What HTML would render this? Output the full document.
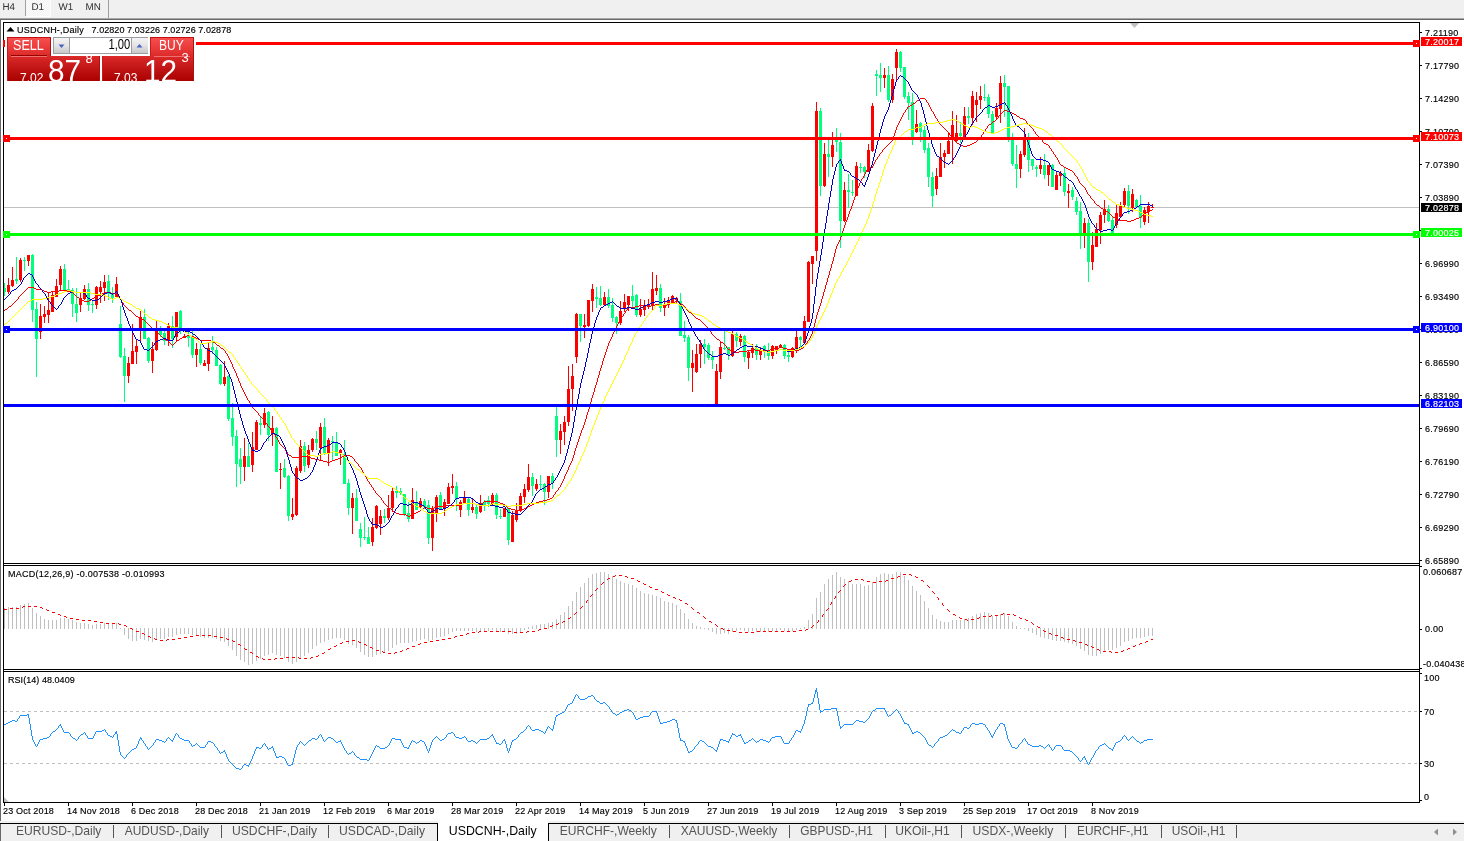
<!DOCTYPE html>
<html><head><meta charset="utf-8"><title>USDCNH-,Daily</title>
<style>
html,body{margin:0;padding:0;}
body{width:1464px;height:841px;overflow:hidden;background:#fff;position:relative;font-family:"Liberation Sans", sans-serif;}
.abs{position:absolute;}
#toolbar{left:0;top:0;width:1464px;height:18px;background:#f0f0f0;}
.tf{position:absolute;top:1px;height:11px;line-height:11px;font-size:10px;color:#303030;letter-spacing:0.2px;}
#tabs{left:0;top:824px;width:1464px;height:17px;background:#f0f0f0;}
.tab{position:absolute;top:0;height:17px;line-height:15px;font-size:13px;color:#555;white-space:nowrap;}
.tab.act{background:#fff;color:#000;top:-3px;height:20px;line-height:21px;border-left:1px solid #000;border-right:1px solid #000;text-align:center;}
svg text{font-family:"Liberation Sans", sans-serif;}
.ax{font-size:9px;fill:#000;letter-spacing:0.25px;stroke:#000;stroke-width:0.15px;}
#oct{left:4px;top:36px;width:192px;height:46px;background:#fff;}
.rb{position:absolute;background:linear-gradient(#f04848,#c81818 55%,#b00000);color:#fff;overflow:hidden;}
</style></head><body>

<div id="toolbar" class="abs">
<div class="abs" style="left:26px;top:0;width:25px;height:17px;background:#fcfcfc"></div>
<div class="abs" style="left:26px;top:0;width:24px;height:16px;background-color:#f0f0f0;background-image:linear-gradient(45deg,#fff 25%,transparent 25%,transparent 75%,#fff 75%),linear-gradient(45deg,#fff 25%,transparent 25%,transparent 75%,#fff 75%);background-size:2px 2px;background-position:0 0,1px 1px"></div>
<div class="abs" style="left:25px;top:0;width:1px;height:16px;background:#a0a0a0"></div>
<div class="abs" style="left:108px;top:0;width:1px;height:18px;background:#a0a0a0"></div>
</div>
<div class="abs" style="left:0;top:18px;width:1464px;height:1px;background:#a8a8a8"></div>
<div class="abs" style="left:0;top:19px;width:1464px;height:1px;background:#696969"></div>
<div class="abs" style="left:0;top:20px;width:1px;height:801px;background:#696969"></div>
<div class="abs" style="left:0;top:821px;width:1464px;height:2px;background:#f0f0f0"></div>
<div class="abs" style="left:0;top:823px;width:1464px;height:1px;background:#000"></div>
<div id="tabs" class="abs"></div>
<div class="abs" style="left:0;top:824px;width:1px;height:17px;background:#696969"></div>
<div class="abs" style="left:438px;top:821px;width:110px;height:20px;background:#fff;"></div>
<div class="abs" style="left:437px;top:823px;width:1px;height:18px;background:#000;"></div><div class="abs" style="left:548px;top:823px;width:1px;height:18px;background:#000;"></div>
<div class="abs" style="left:438px;top:816px;width:110px;height:6px;background:#fff;"></div>
<svg class="abs" style="left:0;top:816px" width="1464" height="25" viewBox="0 816 1464 25">
<text x="16" y="835" font-size="13" fill="#555" textLength="85.4" lengthAdjust="spacingAndGlyphs">EURUSD-,Daily</text>
<text x="124.7" y="835" font-size="13" fill="#555" textLength="84.3" lengthAdjust="spacingAndGlyphs">AUDUSD-,Daily</text>
<text x="232" y="835" font-size="13" fill="#555" textLength="85.0" lengthAdjust="spacingAndGlyphs">USDCHF-,Daily</text>
<text x="339" y="835" font-size="13" fill="#555" textLength="86.0" lengthAdjust="spacingAndGlyphs">USDCAD-,Daily</text>
<text x="448.8" y="835" font-size="13" fill="#000" textLength="87.8" lengthAdjust="spacingAndGlyphs">USDCNH-,Daily</text>
<text x="559.8" y="835" font-size="13" fill="#555" textLength="97.0" lengthAdjust="spacingAndGlyphs">EURCHF-,Weekly</text>
<text x="680.7" y="835" font-size="13" fill="#555" textLength="96.7" lengthAdjust="spacingAndGlyphs">XAUUSD-,Weekly</text>
<text x="800.3" y="835" font-size="13" fill="#555" textLength="72.7" lengthAdjust="spacingAndGlyphs">GBPUSD-,H1</text>
<text x="895.3" y="835" font-size="13" fill="#555" textLength="54.5" lengthAdjust="spacingAndGlyphs">UKOil-,H1</text>
<text x="972.5" y="835" font-size="13" fill="#555" textLength="80.9" lengthAdjust="spacingAndGlyphs">USDX-,Weekly</text>
<text x="1077" y="835" font-size="13" fill="#555" textLength="71.7" lengthAdjust="spacingAndGlyphs">EURCHF-,H1</text>
<text x="1171.7" y="835" font-size="13" fill="#555" textLength="53.7" lengthAdjust="spacingAndGlyphs">USOil-,H1</text>
<rect x="112.9" y="825" width="1" height="13" fill="#555" shape-rendering="crispEdges"/>
<rect x="220.8" y="825" width="1" height="13" fill="#555" shape-rendering="crispEdges"/>
<rect x="328.4" y="825" width="1" height="13" fill="#555" shape-rendering="crispEdges"/>
<rect x="669.3" y="825" width="1" height="13" fill="#555" shape-rendering="crispEdges"/>
<rect x="788.8" y="825" width="1" height="13" fill="#555" shape-rendering="crispEdges"/>
<rect x="884.8" y="825" width="1" height="13" fill="#555" shape-rendering="crispEdges"/>
<rect x="960.5" y="825" width="1" height="13" fill="#555" shape-rendering="crispEdges"/>
<rect x="1064.5" y="825" width="1" height="13" fill="#555" shape-rendering="crispEdges"/>
<rect x="1160.5" y="825" width="1" height="13" fill="#555" shape-rendering="crispEdges"/>
<rect x="1236.2" y="825" width="1" height="13" fill="#555" shape-rendering="crispEdges"/>
<path d="M1434 832 L1438 828.5 L1438 835.5 Z" fill="#909090"/><path d="M1457 832 L1453 828.5 L1453 835.5 Z" fill="#909090"/>
</svg>
<svg class="abs" style="left:0;top:0" width="1464" height="841" viewBox="0 0 1464 841">
<g shape-rendering="crispEdges">
<rect x="4" y="207" width="1415" height="1" fill="#c0c0c0"/>
<rect x="4" y="283" width="1" height="13" fill="#00ff7f"/>
<rect x="3" y="288" width="3" height="4" fill="#00ff7f"/>
<rect x="8" y="278" width="1" height="16" fill="#ff0000"/>
<rect x="7" y="285" width="3" height="7" fill="#ff0000"/>
<rect x="12" y="267" width="1" height="20" fill="#ff0000"/>
<rect x="11" y="280" width="3" height="6" fill="#ff0000"/>
<rect x="16" y="257" width="1" height="27" fill="#00ff7f"/>
<rect x="15" y="279" width="3" height="2" fill="#00ff7f"/>
<rect x="20" y="258" width="1" height="24" fill="#ff0000"/>
<rect x="19" y="260" width="3" height="20" fill="#ff0000"/>
<rect x="24" y="257" width="1" height="14" fill="#00ff7f"/>
<rect x="23" y="260" width="3" height="1" fill="#00ff7f"/>
<rect x="28" y="255" width="1" height="11" fill="#ff0000"/>
<rect x="27" y="255" width="3" height="6" fill="#ff0000"/>
<rect x="32" y="254" width="1" height="68" fill="#00ff7f"/>
<rect x="31" y="255" width="3" height="55" fill="#00ff7f"/>
<rect x="36" y="302" width="1" height="75" fill="#00ff7f"/>
<rect x="35" y="309" width="3" height="30" fill="#00ff7f"/>
<rect x="40" y="304" width="1" height="35" fill="#ff0000"/>
<rect x="39" y="316" width="3" height="16" fill="#ff0000"/>
<rect x="44" y="306" width="1" height="17" fill="#ff0000"/>
<rect x="43" y="314" width="3" height="3" fill="#ff0000"/>
<rect x="48" y="292" width="1" height="31" fill="#ff0000"/>
<rect x="47" y="310" width="3" height="5" fill="#ff0000"/>
<rect x="52" y="292" width="1" height="20" fill="#ff0000"/>
<rect x="51" y="295" width="3" height="17" fill="#ff0000"/>
<rect x="56" y="279" width="1" height="18" fill="#ff0000"/>
<rect x="55" y="286" width="3" height="11" fill="#ff0000"/>
<rect x="60" y="266" width="1" height="24" fill="#ff0000"/>
<rect x="59" y="269" width="3" height="16" fill="#ff0000"/>
<rect x="64" y="264" width="1" height="26" fill="#00ff7f"/>
<rect x="63" y="269" width="3" height="21" fill="#00ff7f"/>
<rect x="68" y="280" width="1" height="10" fill="#00ff7f"/>
<rect x="67" y="289" width="3" height="1" fill="#00ff7f"/>
<rect x="72" y="288" width="1" height="29" fill="#00ff7f"/>
<rect x="71" y="290" width="3" height="14" fill="#00ff7f"/>
<rect x="76" y="288" width="1" height="34" fill="#00ff7f"/>
<rect x="75" y="304" width="3" height="9" fill="#00ff7f"/>
<rect x="80" y="293" width="1" height="19" fill="#ff0000"/>
<rect x="79" y="298" width="3" height="7" fill="#ff0000"/>
<rect x="84" y="285" width="1" height="15" fill="#ff0000"/>
<rect x="83" y="289" width="3" height="10" fill="#ff0000"/>
<rect x="88" y="283" width="1" height="28" fill="#00ff7f"/>
<rect x="87" y="289" width="3" height="16" fill="#00ff7f"/>
<rect x="92" y="300" width="1" height="13" fill="#00ff7f"/>
<rect x="91" y="304" width="3" height="1" fill="#00ff7f"/>
<rect x="96" y="286" width="1" height="23" fill="#ff0000"/>
<rect x="95" y="287" width="3" height="18" fill="#ff0000"/>
<rect x="100" y="281" width="1" height="22" fill="#ff0000"/>
<rect x="99" y="287" width="3" height="5" fill="#ff0000"/>
<rect x="104" y="275" width="1" height="26" fill="#ff0000"/>
<rect x="103" y="282" width="3" height="6" fill="#ff0000"/>
<rect x="108" y="275" width="1" height="25" fill="#00ff7f"/>
<rect x="107" y="281" width="3" height="13" fill="#00ff7f"/>
<rect x="112" y="287" width="1" height="16" fill="#00ff7f"/>
<rect x="111" y="293" width="3" height="5" fill="#00ff7f"/>
<rect x="116" y="277" width="1" height="21" fill="#ff0000"/>
<rect x="115" y="284" width="3" height="13" fill="#ff0000"/>
<rect x="120" y="306" width="1" height="52" fill="#00ff7f"/>
<rect x="119" y="324" width="3" height="33" fill="#00ff7f"/>
<rect x="124" y="348" width="1" height="54" fill="#00ff7f"/>
<rect x="123" y="356" width="3" height="20" fill="#00ff7f"/>
<rect x="128" y="357" width="1" height="26" fill="#ff0000"/>
<rect x="127" y="363" width="3" height="13" fill="#ff0000"/>
<rect x="132" y="324" width="1" height="40" fill="#ff0000"/>
<rect x="131" y="351" width="3" height="13" fill="#ff0000"/>
<rect x="136" y="339" width="1" height="25" fill="#ff0000"/>
<rect x="135" y="346" width="3" height="6" fill="#ff0000"/>
<rect x="140" y="311" width="1" height="31" fill="#ff0000"/>
<rect x="139" y="317" width="3" height="11" fill="#ff0000"/>
<rect x="144" y="309" width="1" height="30" fill="#00ff7f"/>
<rect x="143" y="317" width="3" height="22" fill="#00ff7f"/>
<rect x="148" y="337" width="1" height="26" fill="#00ff7f"/>
<rect x="147" y="338" width="3" height="23" fill="#00ff7f"/>
<rect x="152" y="342" width="1" height="31" fill="#ff0000"/>
<rect x="151" y="349" width="3" height="12" fill="#ff0000"/>
<rect x="156" y="321" width="1" height="30" fill="#ff0000"/>
<rect x="155" y="330" width="3" height="20" fill="#ff0000"/>
<rect x="160" y="326" width="1" height="11" fill="#00ff7f"/>
<rect x="159" y="330" width="3" height="5" fill="#00ff7f"/>
<rect x="164" y="330" width="1" height="15" fill="#00ff7f"/>
<rect x="163" y="333" width="3" height="8" fill="#00ff7f"/>
<rect x="168" y="323" width="1" height="23" fill="#ff0000"/>
<rect x="167" y="326" width="3" height="15" fill="#ff0000"/>
<rect x="172" y="316" width="1" height="32" fill="#00ff7f"/>
<rect x="171" y="326" width="3" height="13" fill="#00ff7f"/>
<rect x="176" y="312" width="1" height="29" fill="#ff0000"/>
<rect x="175" y="312" width="3" height="25" fill="#ff0000"/>
<rect x="180" y="310" width="1" height="24" fill="#00ff7f"/>
<rect x="179" y="311" width="3" height="19" fill="#00ff7f"/>
<rect x="184" y="334" width="1" height="4" fill="#ff0000"/>
<rect x="183" y="336" width="3" height="2" fill="#ff0000"/>
<rect x="188" y="331" width="1" height="16" fill="#00ff7f"/>
<rect x="187" y="335" width="3" height="3" fill="#00ff7f"/>
<rect x="192" y="331" width="1" height="27" fill="#00ff7f"/>
<rect x="191" y="337" width="3" height="18" fill="#00ff7f"/>
<rect x="196" y="343" width="1" height="24" fill="#ff0000"/>
<rect x="195" y="349" width="3" height="6" fill="#ff0000"/>
<rect x="200" y="343" width="1" height="22" fill="#00ff7f"/>
<rect x="199" y="349" width="3" height="14" fill="#00ff7f"/>
<rect x="204" y="360" width="1" height="6" fill="#ff0000"/>
<rect x="203" y="363" width="3" height="3" fill="#ff0000"/>
<rect x="208" y="343" width="1" height="28" fill="#ff0000"/>
<rect x="207" y="348" width="3" height="16" fill="#ff0000"/>
<rect x="212" y="336" width="1" height="18" fill="#00ff7f"/>
<rect x="211" y="347" width="3" height="3" fill="#00ff7f"/>
<rect x="216" y="347" width="1" height="19" fill="#00ff7f"/>
<rect x="215" y="350" width="3" height="16" fill="#00ff7f"/>
<rect x="220" y="364" width="1" height="21" fill="#00ff7f"/>
<rect x="219" y="365" width="3" height="19" fill="#00ff7f"/>
<rect x="224" y="361" width="1" height="25" fill="#ff0000"/>
<rect x="223" y="377" width="3" height="7" fill="#ff0000"/>
<rect x="228" y="375" width="1" height="46" fill="#00ff7f"/>
<rect x="227" y="376" width="3" height="43" fill="#00ff7f"/>
<rect x="232" y="403" width="1" height="43" fill="#00ff7f"/>
<rect x="231" y="418" width="3" height="19" fill="#00ff7f"/>
<rect x="236" y="430" width="1" height="57" fill="#00ff7f"/>
<rect x="235" y="436" width="3" height="28" fill="#00ff7f"/>
<rect x="240" y="448" width="1" height="36" fill="#00ff7f"/>
<rect x="239" y="459" width="3" height="8" fill="#00ff7f"/>
<rect x="244" y="438" width="1" height="43" fill="#ff0000"/>
<rect x="243" y="456" width="3" height="11" fill="#ff0000"/>
<rect x="248" y="443" width="1" height="24" fill="#00ff7f"/>
<rect x="247" y="456" width="3" height="11" fill="#00ff7f"/>
<rect x="252" y="432" width="1" height="40" fill="#ff0000"/>
<rect x="251" y="447" width="3" height="18" fill="#ff0000"/>
<rect x="256" y="420" width="1" height="30" fill="#ff0000"/>
<rect x="255" y="422" width="3" height="28" fill="#ff0000"/>
<rect x="260" y="417" width="1" height="18" fill="#00ff7f"/>
<rect x="259" y="423" width="3" height="2" fill="#00ff7f"/>
<rect x="264" y="408" width="1" height="20" fill="#ff0000"/>
<rect x="263" y="413" width="3" height="12" fill="#ff0000"/>
<rect x="268" y="411" width="1" height="30" fill="#00ff7f"/>
<rect x="267" y="412" width="3" height="23" fill="#00ff7f"/>
<rect x="272" y="416" width="1" height="30" fill="#ff0000"/>
<rect x="271" y="428" width="3" height="6" fill="#ff0000"/>
<rect x="276" y="427" width="1" height="45" fill="#00ff7f"/>
<rect x="275" y="428" width="3" height="44" fill="#00ff7f"/>
<rect x="280" y="463" width="1" height="26" fill="#ff0000"/>
<rect x="279" y="469" width="3" height="1" fill="#ff0000"/>
<rect x="284" y="459" width="1" height="19" fill="#00ff7f"/>
<rect x="283" y="468" width="3" height="9" fill="#00ff7f"/>
<rect x="288" y="475" width="1" height="46" fill="#00ff7f"/>
<rect x="287" y="476" width="3" height="40" fill="#00ff7f"/>
<rect x="292" y="498" width="1" height="22" fill="#ff0000"/>
<rect x="291" y="514" width="3" height="3" fill="#ff0000"/>
<rect x="296" y="466" width="1" height="50" fill="#ff0000"/>
<rect x="295" y="468" width="3" height="47" fill="#ff0000"/>
<rect x="300" y="440" width="1" height="33" fill="#ff0000"/>
<rect x="299" y="446" width="3" height="25" fill="#ff0000"/>
<rect x="304" y="442" width="1" height="30" fill="#00ff7f"/>
<rect x="303" y="446" width="3" height="20" fill="#00ff7f"/>
<rect x="308" y="445" width="1" height="23" fill="#ff0000"/>
<rect x="307" y="450" width="3" height="15" fill="#ff0000"/>
<rect x="312" y="438" width="1" height="14" fill="#ff0000"/>
<rect x="311" y="439" width="3" height="11" fill="#ff0000"/>
<rect x="316" y="431" width="1" height="19" fill="#00ff7f"/>
<rect x="315" y="439" width="3" height="4" fill="#00ff7f"/>
<rect x="320" y="423" width="1" height="37" fill="#ff0000"/>
<rect x="319" y="427" width="3" height="21" fill="#ff0000"/>
<rect x="324" y="418" width="1" height="37" fill="#00ff7f"/>
<rect x="323" y="427" width="3" height="27" fill="#00ff7f"/>
<rect x="328" y="438" width="1" height="28" fill="#ff0000"/>
<rect x="327" y="440" width="3" height="14" fill="#ff0000"/>
<rect x="332" y="436" width="1" height="24" fill="#00ff7f"/>
<rect x="331" y="441" width="3" height="1" fill="#00ff7f"/>
<rect x="336" y="432" width="1" height="24" fill="#00ff7f"/>
<rect x="335" y="442" width="3" height="14" fill="#00ff7f"/>
<rect x="340" y="449" width="1" height="16" fill="#ff0000"/>
<rect x="339" y="450" width="3" height="3" fill="#ff0000"/>
<rect x="344" y="440" width="1" height="44" fill="#00ff7f"/>
<rect x="343" y="454" width="3" height="30" fill="#00ff7f"/>
<rect x="348" y="479" width="1" height="36" fill="#00ff7f"/>
<rect x="347" y="483" width="3" height="25" fill="#00ff7f"/>
<rect x="352" y="493" width="1" height="41" fill="#ff0000"/>
<rect x="351" y="498" width="3" height="10" fill="#ff0000"/>
<rect x="356" y="489" width="1" height="32" fill="#00ff7f"/>
<rect x="355" y="498" width="3" height="23" fill="#00ff7f"/>
<rect x="360" y="523" width="1" height="24" fill="#00ff7f"/>
<rect x="359" y="529" width="3" height="9" fill="#00ff7f"/>
<rect x="364" y="517" width="1" height="23" fill="#00ff7f"/>
<rect x="363" y="537" width="3" height="1" fill="#00ff7f"/>
<rect x="368" y="527" width="1" height="17" fill="#00ff7f"/>
<rect x="367" y="537" width="3" height="7" fill="#00ff7f"/>
<rect x="372" y="518" width="1" height="28" fill="#ff0000"/>
<rect x="371" y="527" width="3" height="15" fill="#ff0000"/>
<rect x="376" y="505" width="1" height="24" fill="#ff0000"/>
<rect x="375" y="506" width="3" height="22" fill="#ff0000"/>
<rect x="380" y="510" width="1" height="25" fill="#ff0000"/>
<rect x="379" y="516" width="3" height="8" fill="#ff0000"/>
<rect x="384" y="509" width="1" height="14" fill="#00ff7f"/>
<rect x="383" y="516" width="3" height="2" fill="#00ff7f"/>
<rect x="388" y="495" width="1" height="25" fill="#ff0000"/>
<rect x="387" y="508" width="3" height="10" fill="#ff0000"/>
<rect x="392" y="487" width="1" height="25" fill="#ff0000"/>
<rect x="391" y="491" width="3" height="17" fill="#ff0000"/>
<rect x="396" y="486" width="1" height="12" fill="#00ff7f"/>
<rect x="395" y="491" width="3" height="2" fill="#00ff7f"/>
<rect x="400" y="488" width="1" height="7" fill="#00ff7f"/>
<rect x="399" y="491" width="3" height="2" fill="#00ff7f"/>
<rect x="404" y="494" width="1" height="22" fill="#00ff7f"/>
<rect x="403" y="494" width="3" height="21" fill="#00ff7f"/>
<rect x="408" y="502" width="1" height="20" fill="#00ff7f"/>
<rect x="407" y="513" width="3" height="6" fill="#00ff7f"/>
<rect x="412" y="488" width="1" height="31" fill="#ff0000"/>
<rect x="411" y="500" width="3" height="19" fill="#ff0000"/>
<rect x="416" y="491" width="1" height="19" fill="#00ff7f"/>
<rect x="415" y="502" width="3" height="8" fill="#00ff7f"/>
<rect x="420" y="498" width="1" height="11" fill="#ff0000"/>
<rect x="419" y="501" width="3" height="6" fill="#ff0000"/>
<rect x="424" y="499" width="1" height="10" fill="#00ff7f"/>
<rect x="423" y="501" width="3" height="6" fill="#00ff7f"/>
<rect x="428" y="500" width="1" height="44" fill="#00ff7f"/>
<rect x="427" y="505" width="3" height="33" fill="#00ff7f"/>
<rect x="432" y="506" width="1" height="45" fill="#ff0000"/>
<rect x="431" y="508" width="3" height="30" fill="#ff0000"/>
<rect x="436" y="495" width="1" height="27" fill="#ff0000"/>
<rect x="435" y="497" width="3" height="16" fill="#ff0000"/>
<rect x="440" y="492" width="1" height="17" fill="#00ff7f"/>
<rect x="439" y="495" width="3" height="14" fill="#00ff7f"/>
<rect x="444" y="499" width="1" height="17" fill="#ff0000"/>
<rect x="443" y="502" width="3" height="7" fill="#ff0000"/>
<rect x="448" y="483" width="1" height="21" fill="#ff0000"/>
<rect x="447" y="487" width="3" height="17" fill="#ff0000"/>
<rect x="452" y="474" width="1" height="20" fill="#ff0000"/>
<rect x="451" y="486" width="3" height="2" fill="#ff0000"/>
<rect x="456" y="482" width="1" height="29" fill="#00ff7f"/>
<rect x="455" y="486" width="3" height="13" fill="#00ff7f"/>
<rect x="460" y="500" width="1" height="17" fill="#ff0000"/>
<rect x="459" y="502" width="3" height="8" fill="#ff0000"/>
<rect x="464" y="491" width="1" height="13" fill="#ff0000"/>
<rect x="463" y="497" width="3" height="7" fill="#ff0000"/>
<rect x="468" y="498" width="1" height="18" fill="#00ff7f"/>
<rect x="467" y="499" width="3" height="11" fill="#00ff7f"/>
<rect x="472" y="499" width="1" height="14" fill="#ff0000"/>
<rect x="471" y="507" width="3" height="3" fill="#ff0000"/>
<rect x="476" y="504" width="1" height="15" fill="#00ff7f"/>
<rect x="475" y="507" width="3" height="7" fill="#00ff7f"/>
<rect x="480" y="495" width="1" height="18" fill="#ff0000"/>
<rect x="479" y="505" width="3" height="7" fill="#ff0000"/>
<rect x="484" y="500" width="1" height="11" fill="#00ff7f"/>
<rect x="483" y="502" width="3" height="3" fill="#00ff7f"/>
<rect x="488" y="496" width="1" height="11" fill="#00ff7f"/>
<rect x="487" y="500" width="3" height="4" fill="#00ff7f"/>
<rect x="492" y="493" width="1" height="12" fill="#ff0000"/>
<rect x="491" y="495" width="3" height="9" fill="#ff0000"/>
<rect x="496" y="493" width="1" height="26" fill="#00ff7f"/>
<rect x="495" y="495" width="3" height="20" fill="#00ff7f"/>
<rect x="500" y="509" width="1" height="10" fill="#00ff7f"/>
<rect x="499" y="516" width="3" height="1" fill="#00ff7f"/>
<rect x="504" y="508" width="1" height="9" fill="#ff0000"/>
<rect x="503" y="508" width="3" height="9" fill="#ff0000"/>
<rect x="508" y="508" width="1" height="37" fill="#00ff7f"/>
<rect x="507" y="508" width="3" height="32" fill="#00ff7f"/>
<rect x="512" y="511" width="1" height="31" fill="#ff0000"/>
<rect x="511" y="515" width="3" height="27" fill="#ff0000"/>
<rect x="516" y="503" width="1" height="19" fill="#ff0000"/>
<rect x="515" y="510" width="3" height="10" fill="#ff0000"/>
<rect x="520" y="493" width="1" height="19" fill="#ff0000"/>
<rect x="519" y="496" width="3" height="14" fill="#ff0000"/>
<rect x="524" y="484" width="1" height="19" fill="#ff0000"/>
<rect x="523" y="489" width="3" height="8" fill="#ff0000"/>
<rect x="528" y="464" width="1" height="28" fill="#ff0000"/>
<rect x="527" y="477" width="3" height="13" fill="#ff0000"/>
<rect x="532" y="473" width="1" height="23" fill="#00ff7f"/>
<rect x="531" y="477" width="3" height="9" fill="#00ff7f"/>
<rect x="536" y="479" width="1" height="12" fill="#ff0000"/>
<rect x="535" y="484" width="3" height="5" fill="#ff0000"/>
<rect x="540" y="475" width="1" height="15" fill="#00ff7f"/>
<rect x="539" y="484" width="3" height="1" fill="#00ff7f"/>
<rect x="544" y="483" width="1" height="22" fill="#00ff7f"/>
<rect x="543" y="484" width="3" height="8" fill="#00ff7f"/>
<rect x="548" y="476" width="1" height="22" fill="#ff0000"/>
<rect x="547" y="476" width="3" height="16" fill="#ff0000"/>
<rect x="552" y="473" width="1" height="16" fill="#00ff7f"/>
<rect x="551" y="476" width="3" height="7" fill="#00ff7f"/>
<rect x="556" y="406" width="1" height="51" fill="#00ff7f"/>
<rect x="555" y="416" width="3" height="24" fill="#00ff7f"/>
<rect x="560" y="424" width="1" height="30" fill="#ff0000"/>
<rect x="559" y="431" width="3" height="9" fill="#ff0000"/>
<rect x="564" y="416" width="1" height="29" fill="#ff0000"/>
<rect x="563" y="422" width="3" height="10" fill="#ff0000"/>
<rect x="568" y="366" width="1" height="60" fill="#ff0000"/>
<rect x="567" y="389" width="3" height="33" fill="#ff0000"/>
<rect x="572" y="364" width="1" height="47" fill="#ff0000"/>
<rect x="571" y="376" width="3" height="13" fill="#ff0000"/>
<rect x="576" y="313" width="1" height="50" fill="#ff0000"/>
<rect x="575" y="314" width="3" height="43" fill="#ff0000"/>
<rect x="580" y="314" width="1" height="28" fill="#00ff7f"/>
<rect x="579" y="314" width="3" height="12" fill="#00ff7f"/>
<rect x="584" y="314" width="1" height="24" fill="#ff0000"/>
<rect x="583" y="325" width="3" height="2" fill="#ff0000"/>
<rect x="588" y="300" width="1" height="27" fill="#ff0000"/>
<rect x="587" y="300" width="3" height="26" fill="#ff0000"/>
<rect x="592" y="284" width="1" height="28" fill="#ff0000"/>
<rect x="591" y="289" width="3" height="12" fill="#ff0000"/>
<rect x="596" y="287" width="1" height="21" fill="#00ff7f"/>
<rect x="595" y="297" width="3" height="2" fill="#00ff7f"/>
<rect x="600" y="286" width="1" height="20" fill="#00ff7f"/>
<rect x="599" y="298" width="3" height="7" fill="#00ff7f"/>
<rect x="604" y="292" width="1" height="14" fill="#ff0000"/>
<rect x="603" y="297" width="3" height="8" fill="#ff0000"/>
<rect x="608" y="289" width="1" height="19" fill="#00ff7f"/>
<rect x="607" y="297" width="3" height="9" fill="#00ff7f"/>
<rect x="612" y="298" width="1" height="24" fill="#00ff7f"/>
<rect x="611" y="305" width="3" height="13" fill="#00ff7f"/>
<rect x="616" y="316" width="1" height="18" fill="#00ff7f"/>
<rect x="615" y="317" width="3" height="6" fill="#00ff7f"/>
<rect x="620" y="301" width="1" height="24" fill="#ff0000"/>
<rect x="619" y="311" width="3" height="12" fill="#ff0000"/>
<rect x="624" y="294" width="1" height="18" fill="#ff0000"/>
<rect x="623" y="302" width="3" height="6" fill="#ff0000"/>
<rect x="628" y="296" width="1" height="15" fill="#ff0000"/>
<rect x="627" y="296" width="3" height="9" fill="#ff0000"/>
<rect x="632" y="285" width="1" height="22" fill="#00ff7f"/>
<rect x="631" y="296" width="3" height="5" fill="#00ff7f"/>
<rect x="636" y="294" width="1" height="23" fill="#00ff7f"/>
<rect x="635" y="295" width="3" height="20" fill="#00ff7f"/>
<rect x="640" y="299" width="1" height="18" fill="#ff0000"/>
<rect x="639" y="309" width="3" height="6" fill="#ff0000"/>
<rect x="644" y="300" width="1" height="16" fill="#ff0000"/>
<rect x="643" y="306" width="3" height="4" fill="#ff0000"/>
<rect x="648" y="299" width="1" height="10" fill="#ff0000"/>
<rect x="647" y="304" width="3" height="2" fill="#ff0000"/>
<rect x="652" y="272" width="1" height="38" fill="#ff0000"/>
<rect x="651" y="289" width="3" height="17" fill="#ff0000"/>
<rect x="656" y="275" width="1" height="20" fill="#ff0000"/>
<rect x="655" y="288" width="3" height="3" fill="#ff0000"/>
<rect x="660" y="284" width="1" height="28" fill="#00ff7f"/>
<rect x="659" y="288" width="3" height="20" fill="#00ff7f"/>
<rect x="664" y="298" width="1" height="18" fill="#ff0000"/>
<rect x="663" y="306" width="3" height="2" fill="#ff0000"/>
<rect x="668" y="297" width="1" height="11" fill="#ff0000"/>
<rect x="667" y="301" width="3" height="3" fill="#ff0000"/>
<rect x="672" y="295" width="1" height="8" fill="#ff0000"/>
<rect x="671" y="296" width="3" height="7" fill="#ff0000"/>
<rect x="676" y="297" width="1" height="6" fill="#ff0000"/>
<rect x="675" y="298" width="3" height="2" fill="#ff0000"/>
<rect x="680" y="293" width="1" height="43" fill="#00ff7f"/>
<rect x="679" y="301" width="3" height="35" fill="#00ff7f"/>
<rect x="684" y="321" width="1" height="21" fill="#00ff7f"/>
<rect x="683" y="335" width="3" height="3" fill="#00ff7f"/>
<rect x="688" y="335" width="1" height="46" fill="#00ff7f"/>
<rect x="687" y="337" width="3" height="31" fill="#00ff7f"/>
<rect x="692" y="350" width="1" height="42" fill="#ff0000"/>
<rect x="691" y="363" width="3" height="5" fill="#ff0000"/>
<rect x="696" y="344" width="1" height="29" fill="#ff0000"/>
<rect x="695" y="354" width="3" height="18" fill="#ff0000"/>
<rect x="700" y="340" width="1" height="28" fill="#ff0000"/>
<rect x="699" y="344" width="3" height="10" fill="#ff0000"/>
<rect x="704" y="339" width="1" height="25" fill="#00ff7f"/>
<rect x="703" y="344" width="3" height="3" fill="#00ff7f"/>
<rect x="708" y="343" width="1" height="17" fill="#00ff7f"/>
<rect x="707" y="345" width="3" height="13" fill="#00ff7f"/>
<rect x="712" y="351" width="1" height="18" fill="#00ff7f"/>
<rect x="711" y="357" width="3" height="3" fill="#00ff7f"/>
<rect x="716" y="364" width="1" height="40" fill="#ff0000"/>
<rect x="715" y="371" width="3" height="33" fill="#ff0000"/>
<rect x="720" y="342" width="1" height="37" fill="#ff0000"/>
<rect x="719" y="347" width="3" height="25" fill="#ff0000"/>
<rect x="724" y="330" width="1" height="20" fill="#00ff7f"/>
<rect x="723" y="348" width="3" height="1" fill="#00ff7f"/>
<rect x="728" y="347" width="1" height="13" fill="#00ff7f"/>
<rect x="727" y="347" width="3" height="7" fill="#00ff7f"/>
<rect x="732" y="331" width="1" height="26" fill="#ff0000"/>
<rect x="731" y="334" width="3" height="22" fill="#ff0000"/>
<rect x="736" y="332" width="1" height="15" fill="#00ff7f"/>
<rect x="735" y="334" width="3" height="7" fill="#00ff7f"/>
<rect x="740" y="334" width="1" height="12" fill="#ff0000"/>
<rect x="739" y="336" width="3" height="6" fill="#ff0000"/>
<rect x="744" y="335" width="1" height="27" fill="#00ff7f"/>
<rect x="743" y="336" width="3" height="21" fill="#00ff7f"/>
<rect x="748" y="351" width="1" height="18" fill="#ff0000"/>
<rect x="747" y="352" width="3" height="6" fill="#ff0000"/>
<rect x="752" y="344" width="1" height="14" fill="#ff0000"/>
<rect x="751" y="348" width="3" height="5" fill="#ff0000"/>
<rect x="756" y="344" width="1" height="16" fill="#00ff7f"/>
<rect x="755" y="348" width="3" height="7" fill="#00ff7f"/>
<rect x="760" y="347" width="1" height="13" fill="#ff0000"/>
<rect x="759" y="350" width="3" height="5" fill="#ff0000"/>
<rect x="764" y="345" width="1" height="13" fill="#00ff7f"/>
<rect x="763" y="346" width="3" height="5" fill="#00ff7f"/>
<rect x="768" y="343" width="1" height="17" fill="#00ff7f"/>
<rect x="767" y="351" width="3" height="5" fill="#00ff7f"/>
<rect x="772" y="345" width="1" height="14" fill="#ff0000"/>
<rect x="771" y="346" width="3" height="10" fill="#ff0000"/>
<rect x="776" y="346" width="1" height="8" fill="#ff0000"/>
<rect x="775" y="346" width="3" height="5" fill="#ff0000"/>
<rect x="780" y="344" width="1" height="4" fill="#ff0000"/>
<rect x="779" y="345" width="3" height="2" fill="#ff0000"/>
<rect x="784" y="344" width="1" height="15" fill="#00ff7f"/>
<rect x="783" y="345" width="3" height="11" fill="#00ff7f"/>
<rect x="788" y="351" width="1" height="11" fill="#00ff7f"/>
<rect x="787" y="355" width="3" height="2" fill="#00ff7f"/>
<rect x="792" y="347" width="1" height="11" fill="#ff0000"/>
<rect x="791" y="348" width="3" height="9" fill="#ff0000"/>
<rect x="796" y="330" width="1" height="23" fill="#ff0000"/>
<rect x="795" y="337" width="3" height="13" fill="#ff0000"/>
<rect x="800" y="336" width="1" height="12" fill="#00ff7f"/>
<rect x="799" y="337" width="3" height="3" fill="#00ff7f"/>
<rect x="804" y="316" width="1" height="27" fill="#ff0000"/>
<rect x="803" y="321" width="3" height="22" fill="#ff0000"/>
<rect x="808" y="261" width="1" height="61" fill="#ff0000"/>
<rect x="807" y="262" width="3" height="60" fill="#ff0000"/>
<rect x="812" y="256" width="1" height="28" fill="#ff0000"/>
<rect x="811" y="256" width="3" height="8" fill="#ff0000"/>
<rect x="816" y="102" width="1" height="159" fill="#ff0000"/>
<rect x="815" y="111" width="3" height="140" fill="#ff0000"/>
<rect x="820" y="108" width="1" height="88" fill="#00ff7f"/>
<rect x="819" y="111" width="3" height="75" fill="#00ff7f"/>
<rect x="824" y="143" width="1" height="44" fill="#ff0000"/>
<rect x="823" y="154" width="3" height="32" fill="#ff0000"/>
<rect x="828" y="140" width="1" height="37" fill="#00ff7f"/>
<rect x="827" y="154" width="3" height="3" fill="#00ff7f"/>
<rect x="832" y="132" width="1" height="35" fill="#ff0000"/>
<rect x="831" y="145" width="3" height="12" fill="#ff0000"/>
<rect x="836" y="128" width="1" height="24" fill="#00ff7f"/>
<rect x="835" y="140" width="3" height="2" fill="#00ff7f"/>
<rect x="840" y="133" width="1" height="115" fill="#00ff7f"/>
<rect x="839" y="142" width="3" height="79" fill="#00ff7f"/>
<rect x="844" y="182" width="1" height="40" fill="#ff0000"/>
<rect x="843" y="190" width="3" height="31" fill="#ff0000"/>
<rect x="848" y="174" width="1" height="34" fill="#00ff7f"/>
<rect x="847" y="190" width="3" height="2" fill="#00ff7f"/>
<rect x="852" y="180" width="1" height="16" fill="#00ff7f"/>
<rect x="851" y="192" width="3" height="1" fill="#00ff7f"/>
<rect x="856" y="162" width="1" height="34" fill="#ff0000"/>
<rect x="855" y="166" width="3" height="30" fill="#ff0000"/>
<rect x="860" y="163" width="1" height="10" fill="#00ff7f"/>
<rect x="859" y="167" width="3" height="1" fill="#00ff7f"/>
<rect x="864" y="166" width="1" height="12" fill="#00ff7f"/>
<rect x="863" y="167" width="3" height="5" fill="#00ff7f"/>
<rect x="868" y="144" width="1" height="28" fill="#ff0000"/>
<rect x="867" y="150" width="3" height="22" fill="#ff0000"/>
<rect x="872" y="103" width="1" height="49" fill="#ff0000"/>
<rect x="871" y="106" width="3" height="45" fill="#ff0000"/>
<rect x="876" y="70" width="1" height="26" fill="#00ff7f"/>
<rect x="875" y="74" width="3" height="2" fill="#00ff7f"/>
<rect x="880" y="63" width="1" height="29" fill="#00ff7f"/>
<rect x="879" y="75" width="3" height="3" fill="#00ff7f"/>
<rect x="884" y="68" width="1" height="20" fill="#ff0000"/>
<rect x="883" y="75" width="3" height="3" fill="#ff0000"/>
<rect x="888" y="66" width="1" height="36" fill="#00ff7f"/>
<rect x="887" y="75" width="3" height="25" fill="#00ff7f"/>
<rect x="892" y="74" width="1" height="29" fill="#ff0000"/>
<rect x="891" y="79" width="3" height="21" fill="#ff0000"/>
<rect x="896" y="49" width="1" height="31" fill="#ff0000"/>
<rect x="895" y="52" width="3" height="16" fill="#ff0000"/>
<rect x="900" y="51" width="1" height="21" fill="#00ff7f"/>
<rect x="899" y="52" width="3" height="16" fill="#00ff7f"/>
<rect x="904" y="67" width="1" height="32" fill="#00ff7f"/>
<rect x="903" y="67" width="3" height="30" fill="#00ff7f"/>
<rect x="908" y="92" width="1" height="28" fill="#00ff7f"/>
<rect x="907" y="96" width="3" height="7" fill="#00ff7f"/>
<rect x="912" y="93" width="1" height="52" fill="#00ff7f"/>
<rect x="911" y="102" width="3" height="35" fill="#00ff7f"/>
<rect x="916" y="110" width="1" height="23" fill="#ff0000"/>
<rect x="915" y="124" width="3" height="8" fill="#ff0000"/>
<rect x="920" y="122" width="1" height="20" fill="#00ff7f"/>
<rect x="919" y="123" width="3" height="9" fill="#00ff7f"/>
<rect x="924" y="126" width="1" height="27" fill="#00ff7f"/>
<rect x="923" y="130" width="3" height="20" fill="#00ff7f"/>
<rect x="928" y="143" width="1" height="44" fill="#00ff7f"/>
<rect x="927" y="148" width="3" height="29" fill="#00ff7f"/>
<rect x="932" y="172" width="1" height="35" fill="#00ff7f"/>
<rect x="931" y="177" width="3" height="19" fill="#00ff7f"/>
<rect x="936" y="168" width="1" height="27" fill="#ff0000"/>
<rect x="935" y="176" width="3" height="13" fill="#ff0000"/>
<rect x="940" y="143" width="1" height="34" fill="#ff0000"/>
<rect x="939" y="157" width="3" height="20" fill="#ff0000"/>
<rect x="944" y="150" width="1" height="18" fill="#ff0000"/>
<rect x="943" y="153" width="3" height="4" fill="#ff0000"/>
<rect x="948" y="133" width="1" height="21" fill="#ff0000"/>
<rect x="947" y="141" width="3" height="13" fill="#ff0000"/>
<rect x="952" y="111" width="1" height="53" fill="#ff0000"/>
<rect x="951" y="125" width="3" height="15" fill="#ff0000"/>
<rect x="956" y="115" width="1" height="28" fill="#ff0000"/>
<rect x="955" y="133" width="3" height="8" fill="#ff0000"/>
<rect x="960" y="122" width="1" height="21" fill="#00ff7f"/>
<rect x="959" y="133" width="3" height="3" fill="#00ff7f"/>
<rect x="964" y="107" width="1" height="30" fill="#ff0000"/>
<rect x="963" y="116" width="3" height="21" fill="#ff0000"/>
<rect x="968" y="107" width="1" height="17" fill="#00ff7f"/>
<rect x="967" y="116" width="3" height="2" fill="#00ff7f"/>
<rect x="972" y="91" width="1" height="34" fill="#ff0000"/>
<rect x="971" y="96" width="3" height="22" fill="#ff0000"/>
<rect x="976" y="92" width="1" height="30" fill="#ff0000"/>
<rect x="975" y="100" width="3" height="5" fill="#ff0000"/>
<rect x="980" y="86" width="1" height="23" fill="#ff0000"/>
<rect x="979" y="96" width="3" height="4" fill="#ff0000"/>
<rect x="984" y="84" width="1" height="17" fill="#00ff7f"/>
<rect x="983" y="97" width="3" height="1" fill="#00ff7f"/>
<rect x="988" y="94" width="1" height="24" fill="#00ff7f"/>
<rect x="987" y="97" width="3" height="17" fill="#00ff7f"/>
<rect x="992" y="111" width="1" height="22" fill="#00ff7f"/>
<rect x="991" y="114" width="3" height="19" fill="#00ff7f"/>
<rect x="996" y="103" width="1" height="16" fill="#ff0000"/>
<rect x="995" y="108" width="3" height="9" fill="#ff0000"/>
<rect x="1000" y="76" width="1" height="47" fill="#ff0000"/>
<rect x="999" y="83" width="3" height="26" fill="#ff0000"/>
<rect x="1004" y="75" width="1" height="42" fill="#00ff7f"/>
<rect x="1003" y="83" width="3" height="4" fill="#00ff7f"/>
<rect x="1008" y="86" width="1" height="56" fill="#00ff7f"/>
<rect x="1007" y="86" width="3" height="51" fill="#00ff7f"/>
<rect x="1012" y="133" width="1" height="33" fill="#00ff7f"/>
<rect x="1011" y="140" width="3" height="24" fill="#00ff7f"/>
<rect x="1016" y="145" width="1" height="43" fill="#00ff7f"/>
<rect x="1015" y="164" width="3" height="5" fill="#00ff7f"/>
<rect x="1020" y="151" width="1" height="27" fill="#ff0000"/>
<rect x="1019" y="154" width="3" height="15" fill="#ff0000"/>
<rect x="1024" y="128" width="1" height="29" fill="#ff0000"/>
<rect x="1023" y="137" width="3" height="18" fill="#ff0000"/>
<rect x="1028" y="133" width="1" height="39" fill="#00ff7f"/>
<rect x="1027" y="140" width="3" height="20" fill="#00ff7f"/>
<rect x="1032" y="159" width="1" height="11" fill="#00ff7f"/>
<rect x="1031" y="159" width="3" height="7" fill="#00ff7f"/>
<rect x="1036" y="165" width="1" height="12" fill="#00ff7f"/>
<rect x="1035" y="167" width="3" height="2" fill="#00ff7f"/>
<rect x="1040" y="157" width="1" height="17" fill="#ff0000"/>
<rect x="1039" y="165" width="3" height="4" fill="#ff0000"/>
<rect x="1044" y="154" width="1" height="25" fill="#00ff7f"/>
<rect x="1043" y="165" width="3" height="10" fill="#00ff7f"/>
<rect x="1048" y="165" width="1" height="21" fill="#ff0000"/>
<rect x="1047" y="165" width="3" height="10" fill="#ff0000"/>
<rect x="1052" y="164" width="1" height="23" fill="#00ff7f"/>
<rect x="1051" y="165" width="3" height="22" fill="#00ff7f"/>
<rect x="1056" y="172" width="1" height="18" fill="#ff0000"/>
<rect x="1055" y="175" width="3" height="15" fill="#ff0000"/>
<rect x="1060" y="171" width="1" height="15" fill="#ff0000"/>
<rect x="1059" y="173" width="3" height="3" fill="#ff0000"/>
<rect x="1064" y="168" width="1" height="28" fill="#00ff7f"/>
<rect x="1063" y="173" width="3" height="19" fill="#00ff7f"/>
<rect x="1068" y="184" width="1" height="24" fill="#ff0000"/>
<rect x="1067" y="191" width="3" height="2" fill="#ff0000"/>
<rect x="1072" y="187" width="1" height="13" fill="#00ff7f"/>
<rect x="1071" y="190" width="3" height="7" fill="#00ff7f"/>
<rect x="1076" y="197" width="1" height="18" fill="#00ff7f"/>
<rect x="1075" y="201" width="3" height="11" fill="#00ff7f"/>
<rect x="1080" y="202" width="1" height="47" fill="#00ff7f"/>
<rect x="1079" y="211" width="3" height="23" fill="#00ff7f"/>
<rect x="1084" y="218" width="1" height="30" fill="#ff0000"/>
<rect x="1083" y="223" width="3" height="11" fill="#ff0000"/>
<rect x="1088" y="219" width="1" height="63" fill="#00ff7f"/>
<rect x="1087" y="223" width="3" height="39" fill="#00ff7f"/>
<rect x="1092" y="232" width="1" height="38" fill="#ff0000"/>
<rect x="1091" y="245" width="3" height="17" fill="#ff0000"/>
<rect x="1096" y="223" width="1" height="24" fill="#ff0000"/>
<rect x="1095" y="229" width="3" height="18" fill="#ff0000"/>
<rect x="1100" y="212" width="1" height="32" fill="#ff0000"/>
<rect x="1099" y="215" width="3" height="15" fill="#ff0000"/>
<rect x="1104" y="200" width="1" height="23" fill="#ff0000"/>
<rect x="1103" y="209" width="3" height="6" fill="#ff0000"/>
<rect x="1108" y="205" width="1" height="17" fill="#00ff7f"/>
<rect x="1107" y="209" width="3" height="12" fill="#00ff7f"/>
<rect x="1112" y="217" width="1" height="16" fill="#00ff7f"/>
<rect x="1111" y="220" width="3" height="13" fill="#00ff7f"/>
<rect x="1116" y="205" width="1" height="23" fill="#ff0000"/>
<rect x="1115" y="213" width="3" height="12" fill="#ff0000"/>
<rect x="1120" y="202" width="1" height="15" fill="#ff0000"/>
<rect x="1119" y="206" width="3" height="11" fill="#ff0000"/>
<rect x="1124" y="188" width="1" height="19" fill="#ff0000"/>
<rect x="1123" y="191" width="3" height="14" fill="#ff0000"/>
<rect x="1128" y="185" width="1" height="29" fill="#00ff7f"/>
<rect x="1127" y="191" width="3" height="15" fill="#00ff7f"/>
<rect x="1132" y="189" width="1" height="23" fill="#ff0000"/>
<rect x="1131" y="194" width="3" height="14" fill="#ff0000"/>
<rect x="1136" y="199" width="1" height="9" fill="#00ff7f"/>
<rect x="1135" y="200" width="3" height="7" fill="#00ff7f"/>
<rect x="1140" y="195" width="1" height="33" fill="#00ff7f"/>
<rect x="1139" y="206" width="3" height="12" fill="#00ff7f"/>
<rect x="1144" y="207" width="1" height="18" fill="#ff0000"/>
<rect x="1143" y="210" width="3" height="12" fill="#ff0000"/>
<rect x="1148" y="202" width="1" height="21" fill="#ff0000"/>
<rect x="1147" y="206" width="3" height="6" fill="#ff0000"/>
<rect x="1152" y="204" width="1" height="4" fill="#ff0000"/>
<rect x="1151" y="207" width="3" height="1" fill="#ff0000"/>
</g>
<path d="M4 310h1v1h-1zM5 309h2v1h-2zM7 308h1v1h-1zM8 307h1v1h-1zM9 306h2v1h-2zM11 305h1v1h-1zM12 304h1v1h-1zM13 303h1v1h-1zM14 302h1v1h-1zM15 301h1v1h-1zM16 300h1v1h-1zM17 299h1v1h-1zM18 297h1v2h-1zM19 296h1v1h-1zM20 295h1v1h-1zM21 294h1v1h-1zM22 293h1v1h-1zM23 292h1v1h-1zM24 291h1v1h-1zM25 290h1v1h-1zM26 289h1v1h-1zM27 288h1v1h-1zM28 287h6v1h-6zM34 288h2v1h-2zM36 289h6v1h-6zM42 290h2v1h-2zM44 291h3v1h-3zM47 292h4v1h-4zM51 291h8v1h-8zM59 290h8v1h-8zM67 291h4v1h-4zM71 292h2v1h-2zM73 293h1v1h-1zM74 294h1v1h-1zM75 295h1v1h-1zM76 296h1v1h-1zM77 297h2v1h-2zM79 298h1v1h-1zM80 299h2v1h-2zM82 300h2v1h-2zM84 301h5v1h-5zM89 300h2v1h-2zM91 299h1v1h-1zM92 298h2v1h-2zM94 297h2v1h-2zM96 296h2v1h-2zM98 295h2v1h-2zM100 294h2v1h-2zM102 293h2v1h-2zM104 292h7v1h-7zM111 293h4v1h-4zM115 294h2v1h-2zM117 295h1v1h-1zM118 296h1v2h-1zM119 298h1v1h-1zM120 299h1v1h-1zM121 300h1v2h-1zM122 302h1v1h-1zM123 303h1v2h-1zM124 305h1v1h-1zM125 306h1v1h-1zM126 307h1v1h-1zM127 308h1v1h-1zM128 309h1v1h-1zM129 310h2v1h-2zM131 311h1v1h-1zM132 312h1v1h-1zM133 313h1v1h-1zM134 314h1v1h-1zM135 315h1v1h-1zM136 316h2v1h-2zM138 317h2v1h-2zM140 318h2v1h-2zM142 319h2v1h-2zM144 320h1v1h-1zM145 321h1v1h-1zM146 322h1v1h-1zM147 323h1v1h-1zM148 324h1v1h-1zM149 325h1v1h-1zM150 326h1v1h-1zM151 327h1v1h-1zM152 328h1v1h-1zM153 329h2v1h-2zM155 330h1v1h-1zM156 331h1v1h-1zM157 332h1v1h-1zM158 333h1v1h-1zM159 334h1v1h-1zM160 335h1v1h-1zM161 336h1v1h-1zM162 337h1v1h-1zM163 338h1v1h-1zM164 339h2v1h-2zM166 340h2v1h-2zM168 341h1v1h-1zM169 342h1v1h-1zM170 343h1v1h-1zM171 344h1v1h-1zM172 345h1v1h-1zM173 344h1v1h-1zM174 343h1v1h-1zM175 342h1v1h-1zM176 341h1v1h-1zM177 340h2v1h-2zM179 339h1v1h-1zM180 338h2v1h-2zM182 337h2v1h-2zM184 336h3v1h-3zM187 335h4v1h-4zM191 336h3v1h-3zM194 337h2v1h-2zM196 338h2v1h-2zM198 339h2v1h-2zM200 340h11v1h-11zM211 341h2v1h-2zM213 342h2v1h-2zM215 343h1v1h-1zM216 344h1v1h-1zM217 345h2v1h-2zM219 346h1v1h-1zM220 347h1v1h-1zM221 348h2v1h-2zM223 349h1v1h-1zM224 350h1v1h-1zM225 351h1v2h-1zM226 353h1v1h-1zM227 354h1v2h-1zM228 356h1v2h-1zM229 358h1v2h-1zM230 360h1v2h-1zM231 362h1v2h-1zM232 364h1v3h-1zM233 367h1v2h-1zM234 369h1v2h-1zM235 371h1v2h-1zM236 373h1v3h-1zM237 376h1v2h-1zM238 378h1v3h-1zM239 381h1v2h-1zM240 383h1v3h-1zM241 386h1v2h-1zM242 388h1v2h-1zM243 390h1v2h-1zM244 392h1v2h-1zM245 394h1v2h-1zM246 396h1v2h-1zM247 398h1v2h-1zM248 400h1v1h-1zM249 401h1v2h-1zM250 403h1v2h-1zM251 405h1v2h-1zM252 407h1v1h-1zM253 408h1v1h-1zM254 409h1v1h-1zM255 410h1v1h-1zM256 411h1v1h-1zM257 412h1v1h-1zM258 413h1v2h-1zM259 415h1v1h-1zM260 416h1v1h-1zM261 417h1v1h-1zM262 418h1v1h-1zM263 419h1v1h-1zM264 420h1v1h-1zM265 421h1v2h-1zM266 423h1v1h-1zM267 424h1v2h-1zM268 426h1v1h-1zM269 427h1v1h-1zM270 428h1v2h-1zM271 430h1v1h-1zM272 431h1v1h-1zM273 432h1v2h-1zM274 434h1v1h-1zM275 435h1v2h-1zM276 437h1v1h-1zM277 438h1v2h-1zM278 440h1v2h-1zM279 442h1v2h-1zM280 444h1v1h-1zM281 445h1v1h-1zM282 446h1v1h-1zM283 447h1v1h-1zM284 448h1v1h-1zM285 449h1v2h-1zM286 451h1v1h-1zM287 452h1v2h-1zM288 454h1v1h-1zM289 455h2v1h-2zM291 456h1v1h-1zM292 457h7v1h-7zM299 456h8v1h-8zM307 457h4v1h-4zM311 458h4v1h-4zM315 459h4v1h-4zM319 460h4v1h-4zM323 461h4v1h-4zM327 462h3v1h-3zM330 461h2v1h-2zM332 460h3v1h-3zM335 459h3v1h-3zM338 458h2v1h-2zM340 457h2v1h-2zM342 456h2v1h-2zM344 455h6v1h-6zM350 456h2v1h-2zM352 457h1v1h-1zM353 458h1v1h-1zM354 459h1v2h-1zM355 461h1v1h-1zM356 462h1v1h-1zM357 463h1v1h-1zM358 464h1v2h-1zM359 466h1v1h-1zM360 467h1v1h-1zM361 468h1v2h-1zM362 470h1v2h-1zM363 472h1v2h-1zM364 474h1v1h-1zM365 475h1v2h-1zM366 477h1v2h-1zM367 479h1v2h-1zM368 481h1v1h-1zM369 482h1v2h-1zM370 484h1v1h-1zM371 485h1v2h-1zM372 487h1v1h-1zM373 488h1v2h-1zM374 490h1v1h-1zM375 491h1v2h-1zM376 493h1v1h-1zM377 494h1v1h-1zM378 495h1v1h-1zM379 496h1v1h-1zM380 497h1v1h-1zM381 498h1v2h-1zM382 500h1v1h-1zM383 501h1v2h-1zM384 503h1v1h-1zM385 504h1v1h-1zM386 505h1v1h-1zM387 506h1v1h-1zM388 507h1v1h-1zM389 508h2v1h-2zM391 509h1v1h-1zM392 510h1v1h-1zM393 511h2v1h-2zM395 512h1v1h-1zM396 513h3v1h-3zM399 514h7v1h-7zM406 515h2v1h-2zM408 516h2v1h-2zM410 515h2v1h-2zM412 514h2v1h-2zM414 513h2v1h-2zM416 512h2v1h-2zM418 511h2v1h-2zM420 510h1v1h-1zM421 509h2v1h-2zM423 508h1v1h-1zM424 507h3v1h-3zM427 508h7v1h-7zM434 507h2v1h-2zM436 506h7v1h-7zM443 505h16v1h-16zM459 504h4v1h-4zM463 503h12v1h-12zM475 504h6v1h-6zM481 503h2v1h-2zM483 502h1v1h-1zM484 501h14v1h-14zM498 502h2v1h-2zM500 503h3v1h-3zM503 504h2v1h-2zM505 505h1v1h-1zM506 506h1v1h-1zM507 507h1v1h-1zM508 508h3v1h-3zM511 509h4v1h-4zM515 510h7v1h-7zM522 509h2v1h-2zM524 508h2v1h-2zM526 507h2v1h-2zM528 506h2v1h-2zM530 505h2v1h-2zM532 504h2v1h-2zM534 503h2v1h-2zM536 502h3v1h-3zM539 501h4v1h-4zM543 500h4v1h-4zM547 499h3v1h-3zM550 498h2v1h-2zM552 497h1v1h-1zM553 495h1v2h-1zM554 494h1v1h-1zM555 492h1v2h-1zM556 491h1v1h-1zM557 490h1v1h-1zM558 488h1v2h-1zM559 487h1v1h-1zM560 485h1v2h-1zM561 483h1v2h-1zM562 481h1v2h-1zM563 479h1v2h-1zM564 476h1v3h-1zM565 474h1v2h-1zM566 472h1v2h-1zM567 470h1v2h-1zM568 467h1v3h-1zM569 465h1v2h-1zM570 463h1v2h-1zM571 461h1v2h-1zM572 458h1v3h-1zM573 455h1v3h-1zM574 451h1v4h-1zM575 448h1v3h-1zM576 445h1v3h-1zM577 442h1v3h-1zM578 439h1v3h-1zM579 436h1v3h-1zM580 433h1v3h-1zM581 430h1v3h-1zM582 428h1v2h-1zM583 425h1v3h-1zM584 422h1v3h-1zM585 419h1v3h-1zM586 415h1v4h-1zM587 412h1v3h-1zM588 409h1v3h-1zM589 405h1v4h-1zM590 402h1v3h-1zM591 398h1v4h-1zM592 395h1v3h-1zM593 392h1v3h-1zM594 388h1v4h-1zM595 385h1v3h-1zM596 382h1v3h-1zM597 378h1v4h-1zM598 375h1v3h-1zM599 371h1v4h-1zM600 368h1v3h-1zM601 365h1v3h-1zM602 361h1v4h-1zM603 358h1v3h-1zM604 355h1v3h-1zM605 352h1v3h-1zM606 349h1v3h-1zM607 346h1v3h-1zM608 343h1v3h-1zM609 341h1v2h-1zM610 339h1v2h-1zM611 337h1v2h-1zM612 334h1v3h-1zM613 332h1v2h-1zM614 330h1v2h-1zM615 328h1v2h-1zM616 326h1v2h-1zM617 324h1v2h-1zM618 322h1v2h-1zM619 320h1v2h-1zM620 319h1v1h-1zM621 317h1v2h-1zM622 316h1v1h-1zM623 314h1v2h-1zM624 313h1v1h-1zM625 311h1v2h-1zM626 310h1v1h-1zM627 308h1v2h-1zM628 307h7v1h-7zM635 306h4v1h-4zM639 305h8v1h-8zM647 306h4v1h-4zM651 305h4v1h-4zM655 304h4v1h-4zM659 305h8v1h-8zM667 304h3v1h-3zM670 303h2v1h-2zM672 302h3v1h-3zM675 301h3v1h-3zM678 302h2v1h-2zM680 303h1v1h-1zM681 304h2v1h-2zM683 305h1v1h-1zM684 306h1v1h-1zM685 307h1v1h-1zM686 308h1v2h-1zM687 310h1v1h-1zM688 311h1v1h-1zM689 312h2v1h-2zM691 313h1v1h-1zM692 314h1v1h-1zM693 315h1v1h-1zM694 316h1v1h-1zM695 317h1v1h-1zM696 318h2v1h-2zM698 319h2v1h-2zM700 320h1v1h-1zM701 321h1v1h-1zM702 322h1v1h-1zM703 323h1v1h-1zM704 324h1v1h-1zM705 325h1v1h-1zM706 326h1v1h-1zM707 327h1v1h-1zM708 328h1v1h-1zM709 329h1v2h-1zM710 331h1v1h-1zM711 332h1v2h-1zM712 334h1v1h-1zM713 335h1v1h-1zM714 336h1v1h-1zM715 337h1v1h-1zM716 338h1v1h-1zM717 339h2v1h-2zM719 340h1v1h-1zM720 341h1v1h-1zM721 342h2v1h-2zM723 343h1v1h-1zM724 344h1v1h-1zM725 345h1v1h-1zM726 346h1v2h-1zM727 348h1v1h-1zM728 349h2v1h-2zM730 350h2v1h-2zM732 351h3v1h-3zM735 352h4v1h-4zM739 351h8v1h-8zM747 350h4v1h-4zM751 349h4v1h-4zM755 350h15v1h-15zM770 349h2v1h-2zM772 348h7v1h-7zM779 347h4v1h-4zM783 348h4v1h-4zM787 349h4v1h-4zM791 350h8v1h-8zM799 349h2v1h-2zM801 348h2v1h-2zM803 347h1v1h-1zM804 346h1v1h-1zM805 344h1v2h-1zM806 343h1v1h-1zM807 341h1v2h-1zM808 340h1v1h-1zM809 338h1v2h-1zM810 336h1v2h-1zM811 334h1v2h-1zM812 331h1v3h-1zM813 327h1v4h-1zM814 323h1v4h-1zM815 319h1v4h-1zM816 315h1v4h-1zM817 312h1v3h-1zM818 309h1v3h-1zM819 306h1v3h-1zM820 303h1v3h-1zM821 299h1v4h-1zM822 296h1v3h-1zM823 292h1v4h-1zM824 289h1v3h-1zM825 285h1v4h-1zM826 282h1v3h-1zM827 278h1v4h-1zM828 275h1v3h-1zM829 271h1v4h-1zM830 268h1v3h-1zM831 264h1v4h-1zM832 261h1v3h-1zM833 257h1v4h-1zM834 253h1v4h-1zM835 249h1v4h-1zM836 246h1v3h-1zM837 244h1v2h-1zM838 242h1v2h-1zM839 240h1v2h-1zM840 237h1v3h-1zM841 234h1v3h-1zM842 231h1v3h-1zM843 228h1v3h-1zM844 225h1v3h-1zM845 222h1v3h-1zM846 220h1v2h-1zM847 217h1v3h-1zM848 214h1v3h-1zM849 211h1v3h-1zM850 209h1v2h-1zM851 206h1v3h-1zM852 203h1v3h-1zM853 200h1v3h-1zM854 197h1v3h-1zM855 194h1v3h-1zM856 191h1v3h-1zM857 188h1v3h-1zM858 186h1v2h-1zM859 183h1v3h-1zM860 181h1v2h-1zM861 179h1v2h-1zM862 178h1v1h-1zM863 176h1v2h-1zM864 174h1v2h-1zM865 172h1v2h-1zM866 170h1v2h-1zM867 168h1v2h-1zM868 167h5v1h-5zM872 166h1v1h-1zM873 164h1v2h-1zM874 162h1v2h-1zM875 160h1v2h-1zM876 159h1v1h-1zM877 157h1v2h-1zM878 156h1v1h-1zM879 154h1v2h-1zM880 153h1v1h-1zM881 152h1v1h-1zM882 150h1v2h-1zM883 149h1v1h-1zM884 148h1v1h-1zM885 147h1v1h-1zM886 146h1v1h-1zM887 145h1v1h-1zM888 144h1v1h-1zM889 143h1v1h-1zM890 142h1v1h-1zM891 141h1v1h-1zM892 139h1v2h-1zM893 136h1v3h-1zM894 133h1v3h-1zM895 130h1v3h-1zM896 127h1v3h-1zM897 125h1v2h-1zM898 123h1v2h-1zM899 121h1v2h-1zM900 119h1v2h-1zM901 117h1v2h-1zM902 115h1v2h-1zM903 113h1v2h-1zM904 112h1v1h-1zM905 110h1v2h-1zM906 109h1v1h-1zM907 107h1v2h-1zM908 106h2v1h-2zM910 105h2v1h-2zM912 104h1v1h-1zM913 103h2v1h-2zM915 102h1v1h-1zM916 101h1v1h-1zM917 100h2v1h-2zM919 99h1v1h-1zM920 98h5v1h-5zM925 99h1v1h-1zM926 100h1v2h-1zM927 102h1v1h-1zM928 103h1v2h-1zM929 105h1v2h-1zM930 107h1v2h-1zM931 109h1v2h-1zM932 111h1v1h-1zM933 112h1v2h-1zM934 114h1v2h-1zM935 116h1v2h-1zM936 118h1v1h-1zM937 119h1v2h-1zM938 121h1v1h-1zM939 122h1v2h-1zM940 124h1v1h-1zM941 125h1v1h-1zM942 126h1v1h-1zM943 127h1v1h-1zM944 128h1v1h-1zM945 129h1v1h-1zM946 130h1v1h-1zM947 131h1v1h-1zM948 132h1v1h-1zM949 133h1v2h-1zM950 135h1v1h-1zM951 136h1v2h-1zM952 138h1v1h-1zM953 139h1v1h-1zM954 140h1v1h-1zM955 141h1v1h-1zM956 142h1v1h-1zM957 143h2v1h-2zM959 144h1v1h-1zM960 145h3v1h-3zM963 146h4v1h-4zM967 145h3v1h-3zM970 144h2v1h-2zM972 143h2v1h-2zM974 142h2v1h-2zM976 141h1v1h-1zM977 140h1v1h-1zM978 139h1v1h-1zM979 138h1v1h-1zM980 137h1v1h-1zM981 135h1v2h-1zM982 134h1v1h-1zM983 132h1v2h-1zM984 131h1v1h-1zM985 129h1v2h-1zM986 128h1v1h-1zM987 126h1v2h-1zM988 125h1v1h-1zM989 124h2v1h-2zM991 123h1v1h-1zM992 122h1v1h-1zM993 121h2v1h-2zM995 120h1v1h-1zM996 119h1v1h-1zM997 118h1v1h-1zM998 116h1v2h-1zM999 115h1v1h-1zM1000 114h1v1h-1zM1001 113h1v1h-1zM1002 112h1v1h-1zM1003 111h1v1h-1zM1004 110h3v1h-3zM1007 111h3v1h-3zM1010 112h2v1h-2zM1012 113h2v1h-2zM1014 114h2v1h-2zM1016 115h1v1h-1zM1017 116h2v1h-2zM1019 117h1v1h-1zM1020 118h3v1h-3zM1023 119h2v1h-2zM1025 120h1v1h-1zM1026 121h1v2h-1zM1027 123h1v1h-1zM1028 124h1v1h-1zM1029 125h1v1h-1zM1030 126h1v1h-1zM1031 127h1v1h-1zM1032 128h1v1h-1zM1033 129h1v2h-1zM1034 131h1v1h-1zM1035 132h1v2h-1zM1036 134h1v1h-1zM1037 135h1v1h-1zM1038 136h1v1h-1zM1039 137h1v1h-1zM1040 138h1v1h-1zM1041 139h1v1h-1zM1042 140h1v2h-1zM1043 142h1v1h-1zM1044 143h2v1h-2zM1046 144h2v1h-2zM1048 145h1v1h-1zM1049 146h1v2h-1zM1050 148h1v1h-1zM1051 149h1v2h-1zM1052 151h1v1h-1zM1053 152h1v2h-1zM1054 154h1v1h-1zM1055 155h1v2h-1zM1056 157h1v1h-1zM1057 158h1v2h-1zM1058 160h1v2h-1zM1059 162h1v2h-1zM1060 164h1v1h-1zM1061 165h2v1h-2zM1063 166h1v1h-1zM1064 167h2v1h-2zM1066 168h2v1h-2zM1068 169h2v1h-2zM1070 170h2v1h-2zM1072 171h1v1h-1zM1073 172h1v1h-1zM1074 173h1v2h-1zM1075 175h1v1h-1zM1076 176h1v1h-1zM1077 177h1v2h-1zM1078 179h1v2h-1zM1079 181h1v2h-1zM1080 183h1v1h-1zM1081 184h1v1h-1zM1082 185h1v1h-1zM1083 186h1v1h-1zM1084 187h1v1h-1zM1085 188h1v2h-1zM1086 190h1v2h-1zM1087 192h1v2h-1zM1088 194h1v1h-1zM1089 195h1v1h-1zM1090 196h1v2h-1zM1091 198h1v1h-1zM1092 199h1v1h-1zM1093 200h1v1h-1zM1094 201h1v2h-1zM1095 203h1v1h-1zM1096 204h1v1h-1zM1097 205h2v1h-2zM1099 206h1v1h-1zM1100 207h1v1h-1zM1101 208h2v1h-2zM1103 209h1v1h-1zM1104 210h2v1h-2zM1106 211h2v1h-2zM1108 212h1v1h-1zM1109 213h1v1h-1zM1110 214h1v1h-1zM1111 215h1v1h-1zM1112 216h1v1h-1zM1113 217h2v1h-2zM1115 218h1v1h-1zM1116 219h3v1h-3zM1119 220h8v1h-8zM1127 221h4v1h-4zM1131 220h3v1h-3zM1134 219h2v1h-2zM1136 218h3v1h-3zM1139 217h2v1h-2zM1141 216h1v1h-1zM1142 215h1v1h-1zM1143 214h1v1h-1zM1144 213h2v1h-2zM1146 212h2v1h-2zM1148 211h2v1h-2zM1150 210h2v1h-2zM1152 209h1v1h-1z" fill="#ff0000" shape-rendering="crispEdges"/>
<path d="M4 299h1v1h-1zM5 298h1v1h-1zM6 297h1v1h-1zM7 296h1v1h-1zM8 295h1v1h-1zM9 294h1v1h-1zM10 292h1v2h-1zM11 291h1v1h-1zM12 290h2v1h-2zM14 289h2v1h-2zM16 288h1v1h-1zM17 287h1v1h-1zM18 286h1v1h-1zM19 285h1v1h-1zM20 284h1v1h-1zM21 282h1v2h-1zM22 280h1v2h-1zM23 278h1v2h-1zM24 277h1v1h-1zM25 276h1v1h-1zM26 275h1v1h-1zM27 274h1v1h-1zM28 273h2v1h-2zM30 274h2v1h-2zM32 275h1v2h-1zM33 277h1v2h-1zM34 279h1v2h-1zM35 281h1v2h-1zM36 283h1v1h-1zM37 284h1v1h-1zM38 285h1v2h-1zM39 287h1v1h-1zM40 288h1v1h-1zM41 289h1v1h-1zM42 290h1v2h-1zM43 292h1v1h-1zM44 293h1v1h-1zM45 294h1v2h-1zM46 296h1v2h-1zM47 298h1v2h-1zM48 300h1v1h-1zM49 301h1v1h-1zM50 302h1v2h-1zM51 304h1v1h-1zM52 305h1v1h-1zM53 306h1v1h-1zM54 307h1v1h-1zM55 308h1v1h-1zM56 309h1v1h-1zM57 308h1v1h-1zM58 306h1v2h-1zM59 305h1v1h-1zM60 304h1v1h-1zM61 302h1v2h-1zM62 300h1v2h-1zM63 298h1v2h-1zM64 297h1v1h-1zM65 296h1v1h-1zM66 295h1v1h-1zM67 294h1v1h-1zM68 293h2v1h-2zM70 292h2v1h-2zM72 291h3v1h-3zM75 292h8v1h-8zM83 293h2v1h-2zM85 294h1v1h-1zM86 295h1v2h-1zM87 297h1v1h-1zM88 298h2v1h-2zM90 299h2v1h-2zM92 300h5v1h-5zM97 299h2v1h-2zM99 298h1v1h-1zM100 297h1v1h-1zM101 296h1v1h-1zM102 295h1v1h-1zM103 294h1v1h-1zM104 293h3v1h-3zM107 292h3v1h-3zM110 293h2v1h-2zM112 294h1v1h-1zM113 293h2v1h-2zM115 292h1v1h-1zM116 291h1v1h-1zM117 292h1v2h-1zM118 294h1v2h-1zM119 296h1v2h-1zM120 298h1v2h-1zM121 300h1v3h-1zM122 303h1v4h-1zM123 307h1v3h-1zM124 310h1v3h-1zM125 313h1v3h-1zM126 316h1v2h-1zM127 318h1v3h-1zM128 321h1v3h-1zM129 324h1v2h-1zM130 326h1v2h-1zM131 328h1v2h-1zM132 330h1v3h-1zM133 333h1v2h-1zM134 335h1v2h-1zM135 337h1v2h-1zM136 339h2v1h-2zM138 340h2v1h-2zM140 341h1v2h-1zM141 343h1v2h-1zM142 345h1v2h-1zM143 347h1v2h-1zM144 349h3v1h-3zM147 350h2v1h-2zM149 349h1v1h-1zM150 348h1v1h-1zM151 347h1v1h-1zM152 346h1v1h-1zM153 345h1v1h-1zM154 343h1v2h-1zM155 342h1v1h-1zM156 341h2v1h-2zM158 340h2v1h-2zM160 339h3v1h-3zM163 338h3v1h-3zM166 339h2v1h-2zM168 340h5v1h-5zM173 338h1v2h-1zM174 336h1v2h-1zM175 334h1v2h-1zM176 333h1v1h-1zM177 332h2v1h-2zM179 331h1v1h-1zM180 330h3v1h-3zM183 331h7v1h-7zM190 332h2v1h-2zM192 333h1v1h-1zM193 334h2v1h-2zM195 335h1v1h-1zM196 336h1v1h-1zM197 337h1v1h-1zM198 338h1v1h-1zM199 339h1v1h-1zM200 340h1v1h-1zM201 341h1v2h-1zM202 343h1v2h-1zM203 345h1v2h-1zM204 347h1v1h-1zM205 348h2v1h-2zM207 349h1v1h-1zM208 350h2v1h-2zM210 351h2v1h-2zM212 352h1v1h-1zM213 353h1v1h-1zM214 354h1v1h-1zM215 355h1v1h-1zM216 356h1v1h-1zM217 357h1v1h-1zM218 358h1v1h-1zM219 359h1v1h-1zM220 360h1v1h-1zM221 361h1v1h-1zM222 362h1v1h-1zM223 363h1v1h-1zM224 364h1v2h-1zM225 366h1v2h-1zM226 368h1v2h-1zM227 370h1v2h-1zM228 372h1v2h-1zM229 374h1v3h-1zM230 377h1v2h-1zM231 379h1v3h-1zM232 382h1v4h-1zM233 386h1v4h-1zM234 390h1v4h-1zM235 394h1v4h-1zM236 398h1v4h-1zM237 402h1v4h-1zM238 406h1v4h-1zM239 410h1v4h-1zM240 414h1v4h-1zM241 418h1v3h-1zM242 421h1v4h-1zM243 425h1v3h-1zM244 428h1v3h-1zM245 431h1v3h-1zM246 434h1v2h-1zM247 436h1v3h-1zM248 439h1v3h-1zM249 442h1v2h-1zM250 444h1v3h-1zM251 447h1v2h-1zM252 449h1v2h-1zM253 450h2v1h-2zM255 451h3v1h-3zM258 450h2v1h-2zM260 449h1v1h-1zM261 447h1v2h-1zM262 445h1v2h-1zM263 443h1v2h-1zM264 442h1v1h-1zM265 441h1v1h-1zM266 439h1v2h-1zM267 438h1v1h-1zM268 437h1v1h-1zM269 436h1v1h-1zM270 435h1v1h-1zM271 434h1v1h-1zM272 433h3v1h-3zM275 434h2v1h-2zM277 435h2v1h-2zM279 436h1v1h-1zM280 437h1v2h-1zM281 439h1v2h-1zM282 441h1v2h-1zM283 443h1v2h-1zM284 445h1v2h-1zM285 447h1v3h-1zM286 450h1v4h-1zM287 454h1v3h-1zM288 457h1v3h-1zM289 460h1v4h-1zM290 464h1v3h-1zM291 467h1v4h-1zM292 471h1v2h-1zM293 473h1v1h-1zM294 474h1v2h-1zM295 476h1v1h-1zM296 477h1v1h-1zM297 478h2v1h-2zM299 479h1v1h-1zM300 480h3v1h-3zM303 479h2v1h-2zM305 478h2v1h-2zM307 477h1v1h-1zM308 476h1v1h-1zM309 475h1v1h-1zM310 473h1v2h-1zM311 472h1v1h-1zM312 470h1v2h-1zM313 467h1v3h-1zM314 465h1v2h-1zM315 462h1v3h-1zM316 459h1v3h-1zM317 456h1v3h-1zM318 453h1v3h-1zM319 450h1v3h-1zM320 448h1v2h-1zM321 448h1v1h-1zM322 447h2v1h-2zM324 446h3v1h-3zM327 445h2v1h-2zM329 444h2v1h-2zM331 443h1v1h-1zM332 442h6v1h-6zM338 443h2v1h-2zM340 444h1v1h-1zM341 445h1v2h-1zM342 447h1v1h-1zM343 448h1v2h-1zM344 450h1v2h-1zM345 452h1v3h-1zM346 455h1v2h-1zM347 457h1v3h-1zM348 460h1v2h-1zM349 462h1v2h-1zM350 464h1v2h-1zM351 466h1v2h-1zM352 468h1v2h-1zM353 470h1v3h-1zM354 473h1v2h-1zM355 475h1v3h-1zM356 478h1v3h-1zM357 481h1v4h-1zM358 485h1v3h-1zM359 488h1v4h-1zM360 492h1v3h-1zM361 495h1v3h-1zM362 498h1v3h-1zM363 501h1v3h-1zM364 504h1v3h-1zM365 507h1v3h-1zM366 510h1v4h-1zM367 514h1v3h-1zM368 517h1v2h-1zM369 519h1v2h-1zM370 521h1v1h-1zM371 522h1v2h-1zM372 524h5v1h-5zM377 525h2v1h-2zM379 526h1v1h-1zM380 527h3v1h-3zM383 526h2v1h-2zM385 525h1v1h-1zM386 524h1v1h-1zM387 523h1v1h-1zM388 522h1v1h-1zM389 520h1v2h-1zM390 518h1v2h-1zM391 516h1v2h-1zM392 515h1v1h-1zM393 513h1v2h-1zM394 511h1v2h-1zM395 509h1v2h-1zM396 508h1v1h-1zM397 507h1v1h-1zM398 505h1v2h-1zM399 504h1v1h-1zM400 503h3v1h-3zM403 504h4v1h-4zM407 505h2v1h-2zM409 504h2v1h-2zM411 503h1v1h-1zM412 502h6v1h-6zM418 503h2v1h-2zM420 504h2v1h-2zM422 505h2v1h-2zM424 506h1v1h-1zM425 507h1v2h-1zM426 509h1v1h-1zM427 510h1v2h-1zM428 512h3v1h-3zM431 511h2v1h-2zM433 510h2v1h-2zM435 509h1v1h-1zM436 508h3v1h-3zM439 509h4v1h-4zM443 508h3v1h-3zM446 507h2v1h-2zM448 506h1v1h-1zM449 505h2v1h-2zM451 504h1v1h-1zM452 503h1v1h-1zM453 502h1v1h-1zM454 500h1v2h-1zM455 499h1v1h-1zM456 498h3v1h-3zM459 497h12v1h-12zM471 498h2v1h-2zM473 499h1v1h-1zM474 500h1v1h-1zM475 501h1v1h-1zM476 502h2v1h-2zM478 503h2v1h-2zM480 504h3v1h-3zM483 505h12v1h-12zM495 506h4v1h-4zM499 507h4v1h-4zM503 506h2v1h-2zM505 507h1v2h-1zM506 509h1v1h-1zM507 510h1v2h-1zM508 512h3v1h-3zM511 513h4v1h-4zM515 514h6v1h-6zM521 513h1v1h-1zM522 512h1v1h-1zM523 511h1v1h-1zM524 510h1v1h-1zM525 509h1v1h-1zM526 507h1v2h-1zM527 506h1v1h-1zM528 505h1v1h-1zM529 504h1v1h-1zM530 503h1v1h-1zM531 502h1v1h-1zM532 500h1v2h-1zM533 498h1v2h-1zM534 496h1v2h-1zM535 494h1v2h-1zM536 493h1v1h-1zM537 492h1v1h-1zM538 491h1v1h-1zM539 490h1v1h-1zM540 489h2v1h-2zM542 488h2v1h-2zM544 487h1v1h-1zM545 486h2v1h-2zM547 485h1v1h-1zM548 484h3v1h-3zM551 483h2v1h-2zM553 481h1v2h-1zM554 480h1v1h-1zM555 478h1v2h-1zM556 477h1v1h-1zM557 475h1v2h-1zM558 473h1v2h-1zM559 471h1v2h-1zM560 469h1v2h-1zM561 467h1v2h-1zM562 465h1v2h-1zM563 463h1v2h-1zM564 460h1v3h-1zM565 456h1v4h-1zM566 453h1v3h-1zM567 449h1v4h-1zM568 445h1v4h-1zM569 441h1v4h-1zM570 437h1v4h-1zM571 433h1v4h-1zM572 428h1v5h-1zM573 422h1v6h-1zM574 416h1v6h-1zM575 410h1v6h-1zM576 405h1v5h-1zM577 399h1v6h-1zM578 394h1v5h-1zM579 388h1v6h-1zM580 383h1v5h-1zM581 379h1v4h-1zM582 375h1v4h-1zM583 371h1v4h-1zM584 367h1v4h-1zM585 362h1v5h-1zM586 358h1v4h-1zM587 353h1v5h-1zM588 348h1v5h-1zM589 343h1v5h-1zM590 339h1v4h-1zM591 334h1v5h-1zM592 330h1v4h-1zM593 327h1v3h-1zM594 323h1v4h-1zM595 320h1v3h-1zM596 317h1v3h-1zM597 315h1v2h-1zM598 312h1v3h-1zM599 310h1v2h-1zM600 308h1v2h-1zM601 307h2v1h-2zM603 306h1v1h-1zM604 305h2v1h-2zM606 304h2v1h-2zM608 303h2v1h-2zM610 302h2v1h-2zM612 301h1v1h-1zM613 302h1v1h-1zM614 303h1v1h-1zM615 304h1v1h-1zM616 305h1v1h-1zM617 306h2v1h-2zM619 307h1v1h-1zM620 308h7v1h-7zM627 307h4v1h-4zM631 308h4v1h-4zM635 309h4v1h-4zM639 308h2v1h-2zM641 307h2v1h-2zM643 306h1v1h-1zM644 305h3v1h-3zM647 304h3v1h-3zM650 303h2v1h-2zM652 302h3v1h-3zM655 301h4v1h-4zM659 302h4v1h-4zM663 301h4v1h-4zM667 300h3v1h-3zM670 299h2v1h-2zM672 298h5v1h-5zM677 299h1v2h-1zM678 301h1v1h-1zM679 302h1v2h-1zM680 304h1v1h-1zM681 305h1v2h-1zM682 307h1v2h-1zM683 309h1v2h-1zM684 311h1v2h-1zM685 313h1v2h-1zM686 315h1v2h-1zM687 317h1v2h-1zM688 319h1v3h-1zM689 322h1v2h-1zM690 324h1v2h-1zM691 326h1v2h-1zM692 328h1v2h-1zM693 330h1v2h-1zM694 332h1v2h-1zM695 334h1v2h-1zM696 336h1v1h-1zM697 337h1v2h-1zM698 339h1v1h-1zM699 340h1v2h-1zM700 342h1v1h-1zM701 343h1v2h-1zM702 345h1v2h-1zM703 347h1v2h-1zM704 349h1v1h-1zM705 350h1v1h-1zM706 351h1v1h-1zM707 352h1v1h-1zM708 353h1v1h-1zM709 354h2v1h-2zM711 355h1v1h-1zM712 356h6v1h-6zM718 355h2v1h-2zM720 354h3v1h-3zM723 353h3v1h-3zM726 354h2v1h-2zM728 355h2v1h-2zM730 354h2v1h-2zM732 353h1v1h-1zM733 352h2v1h-2zM735 351h1v1h-1zM736 350h1v1h-1zM737 349h2v1h-2zM739 348h1v1h-1zM740 347h2v1h-2zM742 346h2v1h-2zM744 345h3v1h-3zM747 346h11v1h-11zM758 347h2v1h-2zM760 348h3v1h-3zM763 349h2v1h-2zM765 350h2v1h-2zM767 351h1v1h-1zM768 352h3v1h-3zM771 351h4v1h-4zM775 350h4v1h-4zM779 349h4v1h-4zM783 350h4v1h-4zM787 351h4v1h-4zM791 350h3v1h-3zM794 349h2v1h-2zM796 348h3v1h-3zM799 347h2v1h-2zM801 346h1v1h-1zM802 345h1v1h-1zM803 344h1v1h-1zM804 342h1v2h-1zM805 339h1v3h-1zM806 336h1v3h-1zM807 333h1v3h-1zM808 330h1v3h-1zM809 326h1v4h-1zM810 323h1v3h-1zM811 319h1v4h-1zM812 313h1v6h-1zM813 304h1v9h-1zM814 296h1v8h-1zM815 287h1v9h-1zM816 279h1v8h-1zM817 273h1v6h-1zM818 267h1v6h-1zM819 261h1v6h-1zM820 255h1v6h-1zM821 249h1v6h-1zM822 242h1v7h-1zM823 236h1v6h-1zM824 229h1v7h-1zM825 223h1v6h-1zM826 216h1v7h-1zM827 210h1v6h-1zM828 203h1v7h-1zM829 197h1v6h-1zM830 191h1v6h-1zM831 185h1v6h-1zM832 179h1v6h-1zM833 175h1v4h-1zM834 171h1v4h-1zM835 167h1v4h-1zM836 164h1v3h-1zM837 163h1v1h-1zM838 161h1v2h-1zM839 160h2v1h-2zM840 159h1v1h-1zM841 161h1v3h-1zM842 164h1v2h-1zM843 166h1v3h-1zM844 169h1v2h-1zM845 170h2v1h-2zM847 171h2v1h-2zM849 172h1v1h-1zM850 173h1v2h-1zM851 175h1v1h-1zM852 176h2v1h-2zM854 177h2v1h-2zM856 178h1v1h-1zM857 179h2v1h-2zM859 180h1v1h-1zM860 181h1v1h-1zM861 182h1v1h-1zM862 183h1v2h-1zM863 185h2v1h-2zM864 186h1v1h-1zM865 182h1v3h-1zM866 180h1v2h-1zM867 177h1v3h-1zM868 174h1v3h-1zM869 171h1v3h-1zM870 168h1v3h-1zM871 165h1v3h-1zM872 161h1v4h-1zM873 157h1v4h-1zM874 153h1v4h-1zM875 149h1v4h-1zM876 145h1v4h-1zM877 141h1v4h-1zM878 137h1v4h-1zM879 133h1v4h-1zM880 129h1v4h-1zM881 126h1v3h-1zM882 122h1v4h-1zM883 119h1v3h-1zM884 116h1v3h-1zM885 114h1v2h-1zM886 112h1v2h-1zM887 110h1v2h-1zM888 107h1v3h-1zM889 103h1v4h-1zM890 100h1v3h-1zM891 96h1v4h-1zM892 93h1v3h-1zM893 89h1v4h-1zM894 86h1v3h-1zM895 82h1v4h-1zM896 80h1v2h-1zM897 79h1v1h-1zM898 77h1v2h-1zM899 76h1v1h-1zM900 75h1v1h-1zM901 76h2v1h-2zM903 77h1v1h-1zM904 78h1v1h-1zM905 79h1v1h-1zM906 80h1v1h-1zM907 81h1v1h-1zM908 82h1v2h-1zM909 84h1v2h-1zM910 86h1v2h-1zM911 88h1v2h-1zM912 90h1v1h-1zM913 91h1v1h-1zM914 92h1v1h-1zM915 93h1v1h-1zM916 94h1v1h-1zM917 95h1v2h-1zM918 97h1v2h-1zM919 99h1v2h-1zM920 101h1v2h-1zM921 103h1v4h-1zM922 107h1v3h-1zM923 110h1v4h-1zM924 114h1v4h-1zM925 118h1v4h-1zM926 122h1v4h-1zM927 126h1v4h-1zM928 130h1v3h-1zM929 133h1v4h-1zM930 137h1v3h-1zM931 140h1v4h-1zM932 144h1v3h-1zM933 147h1v2h-1zM934 149h1v3h-1zM935 152h1v2h-1zM936 154h1v2h-1zM937 156h2v1h-2zM939 157h1v1h-1zM940 158h1v1h-1zM941 159h1v1h-1zM942 160h1v1h-1zM943 161h1v1h-1zM944 162h2v1h-2zM946 163h2v1h-2zM948 164h1v1h-1zM949 163h1v1h-1zM950 162h1v1h-1zM951 161h1v1h-1zM952 160h1v1h-1zM953 158h1v2h-1zM954 157h1v1h-1zM955 155h1v2h-1zM956 153h1v2h-1zM957 151h1v2h-1zM958 149h1v2h-1zM959 147h1v2h-1zM960 144h1v3h-1zM961 142h1v2h-1zM962 140h1v2h-1zM963 138h1v2h-1zM964 137h1v1h-1zM965 135h1v2h-1zM966 134h1v1h-1zM967 132h1v2h-1zM968 130h1v2h-1zM969 128h1v2h-1zM970 126h1v2h-1zM971 124h1v2h-1zM972 123h1v1h-1zM973 121h1v2h-1zM974 120h1v1h-1zM975 118h1v2h-1zM976 117h1v1h-1zM977 116h1v1h-1zM978 115h1v1h-1zM979 114h1v1h-1zM980 113h1v1h-1zM981 112h1v1h-1zM982 110h1v2h-1zM983 109h1v1h-1zM984 108h1v1h-1zM985 107h2v1h-2zM987 106h1v1h-1zM988 105h2v1h-2zM990 106h2v1h-2zM992 107h3v1h-3zM995 106h3v1h-3zM998 105h2v1h-2zM1000 104h2v1h-2zM1002 103h2v1h-2zM1004 102h1v1h-1zM1005 103h1v2h-1zM1006 105h1v1h-1zM1007 106h1v2h-1zM1008 108h1v2h-1zM1009 110h1v2h-1zM1010 112h1v2h-1zM1011 114h1v2h-1zM1012 116h1v3h-1zM1013 119h1v2h-1zM1014 121h1v2h-1zM1015 123h1v2h-1zM1016 125h1v1h-1zM1017 126h2v1h-2zM1019 127h1v1h-1zM1020 128h1v1h-1zM1021 129h1v1h-1zM1022 130h1v1h-1zM1023 131h1v1h-1zM1024 132h1v2h-1zM1025 134h1v3h-1zM1026 137h1v2h-1zM1027 139h1v3h-1zM1028 142h1v3h-1zM1029 145h1v3h-1zM1030 148h1v3h-1zM1031 151h1v3h-1zM1032 154h1v2h-1zM1033 156h1v1h-1zM1034 157h1v1h-1zM1035 158h1v1h-1zM1036 159h7v1h-7zM1043 160h3v1h-3zM1046 161h2v1h-2zM1048 162h1v1h-1zM1049 163h1v2h-1zM1050 165h1v2h-1zM1051 167h1v2h-1zM1052 169h2v1h-2zM1054 170h2v1h-2zM1056 171h3v1h-3zM1059 172h2v1h-2zM1061 173h1v1h-1zM1062 174h1v1h-1zM1063 175h1v1h-1zM1064 176h1v1h-1zM1065 177h2v1h-2zM1067 178h1v1h-1zM1068 179h1v1h-1zM1069 180h2v1h-2zM1071 181h1v1h-1zM1072 182h1v1h-1zM1073 183h1v2h-1zM1074 185h1v2h-1zM1075 187h1v2h-1zM1076 189h1v1h-1zM1077 190h1v2h-1zM1078 192h1v2h-1zM1079 194h1v2h-1zM1080 196h1v1h-1zM1081 197h1v2h-1zM1082 199h1v2h-1zM1083 201h1v2h-1zM1084 203h1v2h-1zM1085 205h1v3h-1zM1086 208h1v3h-1zM1087 211h1v3h-1zM1088 214h1v3h-1zM1089 217h1v2h-1zM1090 219h1v2h-1zM1091 221h1v2h-1zM1092 223h1v1h-1zM1093 224h1v1h-1zM1094 225h1v2h-1zM1095 227h1v1h-1zM1096 228h1v1h-1zM1097 229h2v1h-2zM1099 230h1v1h-1zM1100 231h3v1h-3zM1103 230h4v1h-4zM1107 229h4v1h-4zM1111 230h2v1h-2zM1113 228h1v2h-1zM1114 226h1v2h-1zM1115 224h1v2h-1zM1116 223h1v1h-1zM1117 221h1v2h-1zM1118 220h1v1h-1zM1119 218h1v2h-1zM1120 217h1v1h-1zM1121 216h1v1h-1zM1122 214h1v2h-1zM1123 213h1v1h-1zM1124 212h3v1h-3zM1127 211h3v1h-3zM1130 210h2v1h-2zM1132 209h2v1h-2zM1134 208h2v1h-2zM1136 207h1v1h-1zM1137 206h2v1h-2zM1139 205h1v1h-1zM1140 204h10v1h-10zM1150 205h2v1h-2zM1152 206h1v1h-1z" fill="#0000cd" shape-rendering="crispEdges"/>
<path d="M4 324h1v1h-1zM5 323h2v1h-2zM7 322h1v1h-1zM8 321h1v1h-1zM9 320h1v1h-1zM10 319h1v1h-1zM11 318h1v1h-1zM12 317h1v1h-1zM13 316h1v1h-1zM14 315h1v1h-1zM15 314h1v1h-1zM16 313h1v1h-1zM17 312h1v1h-1zM18 311h1v1h-1zM19 310h1v1h-1zM20 309h1v1h-1zM21 308h1v1h-1zM22 307h1v1h-1zM23 306h1v1h-1zM24 305h1v1h-1zM25 304h1v1h-1zM26 303h1v1h-1zM27 302h1v1h-1zM28 301h2v1h-2zM30 300h2v1h-2zM32 299h11v1h-11zM43 298h4v1h-4zM47 297h4v1h-4zM51 296h3v1h-3zM54 295h2v1h-2zM56 294h3v1h-3zM59 293h3v1h-3zM62 292h2v1h-2zM64 291h3v1h-3zM67 290h4v1h-4zM71 291h4v1h-4zM75 292h16v1h-16zM91 293h4v1h-4zM95 294h8v1h-8zM103 295h3v1h-3zM106 296h2v1h-2zM108 297h2v1h-2zM110 298h2v1h-2zM112 299h2v1h-2zM114 298h2v1h-2zM116 297h3v1h-3zM119 298h2v1h-2zM121 299h2v1h-2zM123 300h1v1h-1zM124 301h2v1h-2zM126 302h2v1h-2zM128 303h2v1h-2zM130 304h2v1h-2zM132 305h1v1h-1zM133 306h2v1h-2zM135 307h1v1h-1zM136 308h3v1h-3zM139 309h2v1h-2zM141 310h1v1h-1zM142 311h1v1h-1zM143 312h1v1h-1zM144 313h1v1h-1zM145 314h2v1h-2zM147 315h1v1h-1zM148 316h1v1h-1zM149 317h2v1h-2zM151 318h1v1h-1zM152 319h3v1h-3zM155 320h4v1h-4zM159 321h3v1h-3zM162 322h2v1h-2zM164 323h2v1h-2zM166 324h2v1h-2zM168 325h2v1h-2zM170 326h2v1h-2zM172 327h6v1h-6zM178 328h2v1h-2zM180 329h2v1h-2zM182 330h2v1h-2zM184 331h1v1h-1zM185 332h2v1h-2zM187 333h1v1h-1zM188 334h1v1h-1zM189 335h2v1h-2zM191 336h1v1h-1zM192 337h2v1h-2zM194 338h2v1h-2zM196 339h1v1h-1zM197 340h1v1h-1zM198 341h1v1h-1zM199 342h1v1h-1zM200 343h7v1h-7zM207 342h4v1h-4zM211 341h4v1h-4zM215 342h3v1h-3zM218 343h2v1h-2zM220 344h1v1h-1zM221 345h2v1h-2zM223 346h1v1h-1zM224 347h1v1h-1zM225 348h1v1h-1zM226 349h1v1h-1zM227 350h1v1h-1zM228 351h1v1h-1zM229 352h2v1h-2zM231 353h1v1h-1zM232 354h1v1h-1zM233 355h1v2h-1zM234 357h1v1h-1zM235 358h1v2h-1zM236 360h1v1h-1zM237 361h1v2h-1zM238 363h1v1h-1zM239 364h1v2h-1zM240 366h1v1h-1zM241 367h1v2h-1zM242 369h1v1h-1zM243 370h1v2h-1zM244 372h1v1h-1zM245 373h1v2h-1zM246 375h1v1h-1zM247 376h1v2h-1zM248 378h1v1h-1zM249 379h1v2h-1zM250 381h1v1h-1zM251 382h1v2h-1zM252 384h1v1h-1zM253 385h1v1h-1zM254 386h1v1h-1zM255 387h1v1h-1zM256 388h1v1h-1zM257 389h1v1h-1zM258 390h1v2h-1zM259 392h1v1h-1zM260 393h1v1h-1zM261 394h1v1h-1zM262 395h1v1h-1zM263 396h1v1h-1zM264 397h1v1h-1zM265 398h1v1h-1zM266 399h1v2h-1zM267 401h1v1h-1zM268 402h1v1h-1zM269 403h1v1h-1zM270 404h1v1h-1zM271 405h1v1h-1zM272 406h1v1h-1zM273 407h1v1h-1zM274 408h1v2h-1zM275 410h1v1h-1zM276 411h1v1h-1zM277 412h1v2h-1zM278 414h1v1h-1zM279 415h1v2h-1zM280 417h1v1h-1zM281 418h1v2h-1zM282 420h1v1h-1zM283 421h1v2h-1zM284 423h1v1h-1zM285 424h1v2h-1zM286 426h1v2h-1zM287 428h1v2h-1zM288 430h1v2h-1zM289 432h1v2h-1zM290 434h1v2h-1zM291 436h1v2h-1zM292 438h1v1h-1zM293 439h1v1h-1zM294 440h1v2h-1zM295 442h1v1h-1zM296 443h1v1h-1zM297 444h1v1h-1zM298 445h1v1h-1zM299 446h1v1h-1zM300 447h1v1h-1zM301 448h1v1h-1zM302 449h1v1h-1zM303 450h1v1h-1zM304 451h1v1h-1zM305 452h1v1h-1zM306 453h1v1h-1zM307 454h1v1h-1zM308 455h7v1h-7zM315 456h3v1h-3zM318 455h2v1h-2zM320 454h3v1h-3zM323 453h7v1h-7zM330 452h2v1h-2zM332 451h3v1h-3zM335 452h4v1h-4zM339 453h2v1h-2zM341 454h2v1h-2zM343 455h1v1h-1zM344 456h1v1h-1zM345 457h1v1h-1zM346 458h1v2h-1zM347 460h1v1h-1zM348 461h1v1h-1zM349 462h2v1h-2zM351 463h1v1h-1zM352 464h1v1h-1zM353 465h1v1h-1zM354 466h1v1h-1zM355 467h1v1h-1zM356 468h1v1h-1zM357 469h2v1h-2zM359 470h1v1h-1zM360 471h1v1h-1zM361 472h2v1h-2zM363 473h1v1h-1zM364 474h1v1h-1zM365 475h1v1h-1zM366 476h1v1h-1zM367 477h1v1h-1zM368 478h10v1h-10zM378 479h2v1h-2zM380 480h1v1h-1zM381 481h2v1h-2zM383 482h1v1h-1zM384 483h2v1h-2zM386 484h2v1h-2zM388 485h2v1h-2zM390 486h2v1h-2zM392 487h1v1h-1zM393 488h2v1h-2zM395 489h1v1h-1zM396 490h2v1h-2zM398 491h2v1h-2zM400 492h1v1h-1zM401 493h1v1h-1zM402 494h1v2h-1zM403 496h1v1h-1zM404 497h1v1h-1zM405 498h2v1h-2zM407 499h1v1h-1zM408 500h1v1h-1zM409 501h2v1h-2zM411 502h1v1h-1zM412 503h1v1h-1zM413 504h2v1h-2zM415 505h1v1h-1zM416 506h2v1h-2zM418 507h2v1h-2zM420 508h1v1h-1zM421 509h2v1h-2zM423 510h1v1h-1zM424 511h2v1h-2zM426 512h2v1h-2zM428 513h14v1h-14zM442 512h2v1h-2zM444 511h1v1h-1zM445 510h2v1h-2zM447 509h1v1h-1zM448 508h2v1h-2zM450 507h2v1h-2zM452 506h2v1h-2zM454 505h2v1h-2zM456 504h7v1h-7zM463 503h12v1h-12zM475 504h4v1h-4zM479 505h11v1h-11zM490 504h2v1h-2zM492 503h3v1h-3zM495 504h8v1h-8zM503 505h4v1h-4zM507 506h4v1h-4zM511 505h12v1h-12zM523 504h4v1h-4zM527 503h12v1h-12zM539 502h8v1h-8zM547 501h4v1h-4zM551 500h2v1h-2zM553 499h1v1h-1zM554 498h1v1h-1zM555 497h1v1h-1zM556 496h1v1h-1zM557 495h2v1h-2zM559 494h1v1h-1zM560 493h1v1h-1zM561 492h1v1h-1zM562 491h1v1h-1zM563 490h1v1h-1zM564 489h1v1h-1zM565 487h1v2h-1zM566 486h1v1h-1zM567 484h1v2h-1zM568 483h1v1h-1zM569 481h1v2h-1zM570 480h1v1h-1zM571 478h1v2h-1zM572 476h1v2h-1zM573 474h1v2h-1zM574 472h1v2h-1zM575 470h1v2h-1zM576 467h1v3h-1zM577 465h1v2h-1zM578 463h1v2h-1zM579 461h1v2h-1zM580 458h1v3h-1zM581 456h1v2h-1zM582 454h1v2h-1zM583 452h1v2h-1zM584 449h1v3h-1zM585 447h1v2h-1zM586 444h1v3h-1zM587 442h1v2h-1zM588 439h1v3h-1zM589 436h1v3h-1zM590 433h1v3h-1zM591 430h1v3h-1zM592 427h1v3h-1zM593 425h1v2h-1zM594 422h1v3h-1zM595 420h1v2h-1zM596 417h1v3h-1zM597 415h1v2h-1zM598 412h1v3h-1zM599 410h1v2h-1zM600 407h1v3h-1zM601 405h1v2h-1zM602 403h1v2h-1zM603 401h1v2h-1zM604 398h1v3h-1zM605 396h1v2h-1zM606 394h1v2h-1zM607 392h1v2h-1zM608 390h1v2h-1zM609 388h1v2h-1zM610 386h1v2h-1zM611 384h1v2h-1zM612 382h1v2h-1zM613 380h1v2h-1zM614 378h1v2h-1zM615 376h1v2h-1zM616 374h1v2h-1zM617 372h1v2h-1zM618 370h1v2h-1zM619 368h1v2h-1zM620 366h1v2h-1zM621 364h1v2h-1zM622 362h1v2h-1zM623 360h1v2h-1zM624 357h1v3h-1zM625 355h1v2h-1zM626 353h1v2h-1zM627 351h1v2h-1zM628 348h1v3h-1zM629 346h1v2h-1zM630 344h1v2h-1zM631 342h1v2h-1zM632 339h1v3h-1zM633 337h1v2h-1zM634 335h1v2h-1zM635 333h1v2h-1zM636 332h1v1h-1zM637 330h1v2h-1zM638 329h1v1h-1zM639 327h1v2h-1zM640 326h1v1h-1zM641 324h1v2h-1zM642 323h1v1h-1zM643 321h1v2h-1zM644 320h1v1h-1zM645 318h1v2h-1zM646 317h1v1h-1zM647 315h1v2h-1zM648 314h1v1h-1zM649 313h1v1h-1zM650 312h1v1h-1zM651 311h1v1h-1zM652 310h1v1h-1zM653 309h1v1h-1zM654 307h1v2h-1zM655 306h1v1h-1zM656 305h7v1h-7zM663 304h4v1h-4zM667 303h11v1h-11zM678 304h2v1h-2zM680 305h2v1h-2zM682 306h2v1h-2zM684 307h1v1h-1zM685 308h2v1h-2zM687 309h1v1h-1zM688 310h1v1h-1zM689 311h2v1h-2zM691 312h1v1h-1zM692 313h3v1h-3zM695 314h4v1h-4zM699 315h3v1h-3zM702 316h2v1h-2zM704 317h1v1h-1zM705 318h2v1h-2zM707 319h1v1h-1zM708 320h1v1h-1zM709 321h2v1h-2zM711 322h1v1h-1zM712 323h1v1h-1zM713 324h2v1h-2zM715 325h1v1h-1zM716 326h2v1h-2zM718 327h2v1h-2zM720 328h2v1h-2zM722 329h2v1h-2zM724 330h2v1h-2zM726 331h2v1h-2zM728 332h3v1h-3zM731 333h2v1h-2zM733 334h2v1h-2zM735 335h1v1h-1zM736 336h2v1h-2zM738 337h2v1h-2zM740 338h2v1h-2zM742 339h2v1h-2zM744 340h1v1h-1zM745 341h2v1h-2zM747 342h1v1h-1zM748 343h2v1h-2zM750 344h2v1h-2zM752 345h1v1h-1zM753 346h2v1h-2zM755 347h1v1h-1zM756 348h2v1h-2zM758 349h2v1h-2zM760 350h3v1h-3zM763 351h4v1h-4zM767 352h4v1h-4zM771 351h4v1h-4zM775 350h4v1h-4zM779 349h4v1h-4zM783 350h12v1h-12zM795 349h3v1h-3zM798 348h2v1h-2zM800 347h3v1h-3zM803 346h2v1h-2zM805 345h1v1h-1zM806 344h1v1h-1zM807 343h1v1h-1zM808 342h1v1h-1zM809 341h1v1h-1zM810 339h1v2h-1zM811 338h1v1h-1zM812 336h1v2h-1zM813 334h1v2h-1zM814 331h1v3h-1zM815 329h1v2h-1zM816 326h1v3h-1zM817 324h1v2h-1zM818 322h1v2h-1zM819 320h1v2h-1zM820 318h1v2h-1zM821 316h1v2h-1zM822 314h1v2h-1zM823 312h1v2h-1zM824 310h1v2h-1zM825 308h1v2h-1zM826 305h1v3h-1zM827 303h1v2h-1zM828 300h1v3h-1zM829 298h1v2h-1zM830 295h1v3h-1zM831 293h1v2h-1zM832 290h1v3h-1zM833 288h1v2h-1zM834 285h1v3h-1zM835 283h1v2h-1zM836 281h1v2h-1zM837 279h1v2h-1zM838 278h1v1h-1zM839 276h1v2h-1zM840 274h1v2h-1zM841 272h1v2h-1zM842 270h1v2h-1zM843 268h1v2h-1zM844 267h1v1h-1zM845 265h1v2h-1zM846 263h1v2h-1zM847 261h1v2h-1zM848 259h1v2h-1zM849 257h1v2h-1zM850 255h1v2h-1zM851 253h1v2h-1zM852 251h1v2h-1zM853 249h1v2h-1zM854 247h1v2h-1zM855 245h1v2h-1zM856 243h1v2h-1zM857 241h1v2h-1zM858 239h1v2h-1zM859 237h1v2h-1zM860 234h1v3h-1zM861 232h1v2h-1zM862 230h1v2h-1zM863 228h1v2h-1zM864 226h1v2h-1zM865 224h1v2h-1zM866 221h1v3h-1zM867 219h1v2h-1zM868 216h1v3h-1zM869 213h1v3h-1zM870 210h1v3h-1zM871 207h1v3h-1zM872 204h1v3h-1zM873 201h1v3h-1zM874 197h1v4h-1zM875 194h1v3h-1zM876 191h1v3h-1zM877 188h1v3h-1zM878 185h1v3h-1zM879 182h1v3h-1zM880 179h1v3h-1zM881 176h1v3h-1zM882 172h1v4h-1zM883 169h1v3h-1zM884 166h1v3h-1zM885 164h1v2h-1zM886 161h1v3h-1zM887 159h1v2h-1zM888 156h1v3h-1zM889 154h1v2h-1zM890 152h1v2h-1zM891 150h1v2h-1zM892 147h1v3h-1zM893 145h1v2h-1zM894 142h1v3h-1zM895 140h1v2h-1zM896 138h1v2h-1zM897 138h1v1h-1zM898 137h2v1h-2zM900 136h1v1h-1zM901 135h1v1h-1zM902 134h1v1h-1zM903 133h1v1h-1zM904 132h1v1h-1zM905 131h2v1h-2zM907 130h1v1h-1zM908 129h6v1h-6zM914 128h2v1h-2zM916 127h5v1h-5zM921 126h2v1h-2zM923 125h1v1h-1zM924 124h3v1h-3zM927 123h8v1h-8zM935 122h8v1h-8zM943 121h4v1h-4zM947 120h4v1h-4zM951 119h4v1h-4zM955 120h2v1h-2zM957 121h2v1h-2zM959 122h1v1h-1zM960 123h2v1h-2zM962 124h2v1h-2zM964 125h2v1h-2zM966 126h2v1h-2zM968 127h3v1h-3zM971 126h4v1h-4zM975 127h3v1h-3zM978 128h2v1h-2zM980 129h2v1h-2zM982 130h2v1h-2zM984 131h3v1h-3zM987 132h4v1h-4zM991 133h4v1h-4zM995 132h3v1h-3zM998 131h2v1h-2zM1000 130h2v1h-2zM1002 129h2v1h-2zM1004 128h3v1h-3zM1007 127h4v1h-4zM1011 126h4v1h-4zM1015 125h4v1h-4zM1019 124h4v1h-4zM1023 123h4v1h-4zM1027 124h4v1h-4zM1031 125h3v1h-3zM1034 126h2v1h-2zM1036 127h3v1h-3zM1039 128h3v1h-3zM1042 129h2v1h-2zM1044 130h1v1h-1zM1045 131h2v1h-2zM1047 132h1v1h-1zM1048 133h1v1h-1zM1049 134h2v1h-2zM1051 135h1v1h-1zM1052 136h1v1h-1zM1053 137h1v1h-1zM1054 138h1v1h-1zM1055 139h1v1h-1zM1056 140h1v1h-1zM1057 141h2v1h-2zM1059 142h1v1h-1zM1060 143h1v1h-1zM1061 144h1v1h-1zM1062 145h1v2h-1zM1063 147h1v1h-1zM1064 148h1v1h-1zM1065 149h1v1h-1zM1066 150h1v1h-1zM1067 151h1v1h-1zM1068 152h1v1h-1zM1069 153h1v1h-1zM1070 154h1v1h-1zM1071 155h1v1h-1zM1072 156h1v1h-1zM1073 157h1v1h-1zM1074 158h1v1h-1zM1075 159h1v1h-1zM1076 160h1v1h-1zM1077 161h1v2h-1zM1078 163h1v1h-1zM1079 164h1v2h-1zM1080 166h1v1h-1zM1081 167h1v2h-1zM1082 169h1v2h-1zM1083 171h1v2h-1zM1084 173h1v2h-1zM1085 175h1v2h-1zM1086 177h1v2h-1zM1087 179h1v2h-1zM1088 181h1v1h-1zM1089 182h1v1h-1zM1090 183h1v2h-1zM1091 185h1v1h-1zM1092 186h1v1h-1zM1093 187h2v1h-2zM1095 188h1v1h-1zM1096 189h2v1h-2zM1098 190h2v1h-2zM1100 191h1v1h-1zM1101 192h2v1h-2zM1103 193h1v1h-1zM1104 194h1v1h-1zM1105 195h1v1h-1zM1106 196h1v1h-1zM1107 197h1v1h-1zM1108 198h1v1h-1zM1109 199h2v1h-2zM1111 200h1v1h-1zM1112 201h1v1h-1zM1113 202h2v1h-2zM1115 203h1v1h-1zM1116 204h3v1h-3zM1119 205h3v1h-3zM1122 206h2v1h-2zM1124 207h3v1h-3zM1127 208h4v1h-4zM1131 209h4v1h-4zM1135 210h3v1h-3zM1138 211h2v1h-2zM1140 212h2v1h-2zM1142 213h2v1h-2zM1144 214h3v1h-3zM1147 215h4v1h-4zM1151 216h2v1h-2z" fill="#ffff00" shape-rendering="crispEdges"/>
<g shape-rendering="crispEdges">
<rect x="3" y="22" width="1417" height="1" fill="#000"/>
<rect x="3" y="563" width="1417" height="1" fill="#000"/>
<rect x="3" y="22" width="1" height="781" fill="#000"/>
<rect x="1419" y="22" width="1" height="781" fill="#000"/>
<rect x="3" y="565" width="1417" height="1" fill="#000"/>
<rect x="3" y="669" width="1417" height="1" fill="#000"/>
<rect x="3" y="671" width="1417" height="1" fill="#000"/>
<rect x="3" y="802" width="1417" height="1" fill="#000"/>
<rect x="4" y="564" width="1415" height="1" fill="#fff"/>
<rect x="4" y="670" width="1415" height="1" fill="#fff"/>
</g>
<g shape-rendering="crispEdges">
<rect x="4" y="42" width="1415" height="3" fill="#ff0000"/>
<rect x="1413" y="40" width="7" height="7" fill="#ff0000"/>
<rect x="1416" y="43" width="1" height="1" fill="#fff"/>
<rect x="3" y="40" width="7" height="7" fill="#ff0000"/>
<rect x="6" y="43" width="1" height="1" fill="#fff"/>
<rect x="4" y="137" width="1415" height="3" fill="#ff0000"/>
<rect x="1413" y="135" width="7" height="7" fill="#ff0000"/>
<rect x="1416" y="138" width="1" height="1" fill="#fff"/>
<rect x="3" y="135" width="7" height="7" fill="#ff0000"/>
<rect x="6" y="138" width="1" height="1" fill="#fff"/>
<rect x="4" y="233" width="1415" height="3" fill="#00ff00"/>
<rect x="1413" y="231" width="7" height="7" fill="#00ff00"/>
<rect x="1416" y="234" width="1" height="1" fill="#fff"/>
<rect x="3" y="231" width="7" height="7" fill="#00ff00"/>
<rect x="6" y="234" width="1" height="1" fill="#fff"/>
<rect x="4" y="328" width="1415" height="3" fill="#0000ff"/>
<rect x="1413" y="326" width="7" height="7" fill="#0000ff"/>
<rect x="1416" y="329" width="1" height="1" fill="#fff"/>
<rect x="3" y="326" width="7" height="7" fill="#0000ff"/>
<rect x="6" y="329" width="1" height="1" fill="#fff"/>
<rect x="4" y="404" width="1415" height="3" fill="#0000ff"/>
<rect x="4" y="608" width="1" height="21" fill="#c0c0c0"/>
<rect x="8" y="607" width="1" height="22" fill="#c0c0c0"/>
<rect x="12" y="607" width="1" height="22" fill="#c0c0c0"/>
<rect x="16" y="607" width="1" height="22" fill="#c0c0c0"/>
<rect x="20" y="605" width="1" height="24" fill="#c0c0c0"/>
<rect x="24" y="604" width="1" height="25" fill="#c0c0c0"/>
<rect x="28" y="603" width="1" height="26" fill="#c0c0c0"/>
<rect x="32" y="608" width="1" height="21" fill="#c0c0c0"/>
<rect x="36" y="613" width="1" height="16" fill="#c0c0c0"/>
<rect x="40" y="616" width="1" height="13" fill="#c0c0c0"/>
<rect x="44" y="619" width="1" height="10" fill="#c0c0c0"/>
<rect x="48" y="620" width="1" height="9" fill="#c0c0c0"/>
<rect x="52" y="620" width="1" height="9" fill="#c0c0c0"/>
<rect x="56" y="620" width="1" height="9" fill="#c0c0c0"/>
<rect x="60" y="618" width="1" height="11" fill="#c0c0c0"/>
<rect x="64" y="618" width="1" height="11" fill="#c0c0c0"/>
<rect x="68" y="619" width="1" height="10" fill="#c0c0c0"/>
<rect x="72" y="620" width="1" height="9" fill="#c0c0c0"/>
<rect x="76" y="622" width="1" height="7" fill="#c0c0c0"/>
<rect x="80" y="623" width="1" height="6" fill="#c0c0c0"/>
<rect x="84" y="623" width="1" height="6" fill="#c0c0c0"/>
<rect x="88" y="624" width="1" height="5" fill="#c0c0c0"/>
<rect x="92" y="625" width="1" height="4" fill="#c0c0c0"/>
<rect x="96" y="624" width="1" height="5" fill="#c0c0c0"/>
<rect x="100" y="624" width="1" height="5" fill="#c0c0c0"/>
<rect x="104" y="623" width="1" height="6" fill="#c0c0c0"/>
<rect x="108" y="623" width="1" height="6" fill="#c0c0c0"/>
<rect x="112" y="624" width="1" height="5" fill="#c0c0c0"/>
<rect x="116" y="623" width="1" height="6" fill="#c0c0c0"/>
<rect x="120" y="628" width="1" height="1" fill="#c0c0c0"/>
<rect x="124" y="628" width="1" height="7" fill="#c0c0c0"/>
<rect x="128" y="628" width="1" height="11" fill="#c0c0c0"/>
<rect x="132" y="628" width="1" height="13" fill="#c0c0c0"/>
<rect x="136" y="628" width="1" height="13" fill="#c0c0c0"/>
<rect x="140" y="628" width="1" height="11" fill="#c0c0c0"/>
<rect x="144" y="628" width="1" height="12" fill="#c0c0c0"/>
<rect x="148" y="628" width="1" height="13" fill="#c0c0c0"/>
<rect x="152" y="628" width="1" height="14" fill="#c0c0c0"/>
<rect x="156" y="628" width="1" height="12" fill="#c0c0c0"/>
<rect x="160" y="628" width="1" height="11" fill="#c0c0c0"/>
<rect x="164" y="628" width="1" height="11" fill="#c0c0c0"/>
<rect x="168" y="628" width="1" height="9" fill="#c0c0c0"/>
<rect x="172" y="628" width="1" height="9" fill="#c0c0c0"/>
<rect x="176" y="628" width="1" height="7" fill="#c0c0c0"/>
<rect x="180" y="628" width="1" height="6" fill="#c0c0c0"/>
<rect x="184" y="628" width="1" height="6" fill="#c0c0c0"/>
<rect x="188" y="628" width="1" height="6" fill="#c0c0c0"/>
<rect x="192" y="628" width="1" height="7" fill="#c0c0c0"/>
<rect x="196" y="628" width="1" height="8" fill="#c0c0c0"/>
<rect x="200" y="628" width="1" height="9" fill="#c0c0c0"/>
<rect x="204" y="628" width="1" height="10" fill="#c0c0c0"/>
<rect x="208" y="628" width="1" height="10" fill="#c0c0c0"/>
<rect x="212" y="628" width="1" height="10" fill="#c0c0c0"/>
<rect x="216" y="628" width="1" height="11" fill="#c0c0c0"/>
<rect x="220" y="628" width="1" height="13" fill="#c0c0c0"/>
<rect x="224" y="628" width="1" height="14" fill="#c0c0c0"/>
<rect x="228" y="628" width="1" height="18" fill="#c0c0c0"/>
<rect x="232" y="628" width="1" height="22" fill="#c0c0c0"/>
<rect x="236" y="628" width="1" height="28" fill="#c0c0c0"/>
<rect x="240" y="628" width="1" height="32" fill="#c0c0c0"/>
<rect x="244" y="628" width="1" height="34" fill="#c0c0c0"/>
<rect x="248" y="628" width="1" height="37" fill="#c0c0c0"/>
<rect x="252" y="628" width="1" height="36" fill="#c0c0c0"/>
<rect x="256" y="628" width="1" height="33" fill="#c0c0c0"/>
<rect x="260" y="628" width="1" height="31" fill="#c0c0c0"/>
<rect x="264" y="628" width="1" height="28" fill="#c0c0c0"/>
<rect x="268" y="628" width="1" height="27" fill="#c0c0c0"/>
<rect x="272" y="628" width="1" height="25" fill="#c0c0c0"/>
<rect x="276" y="628" width="1" height="27" fill="#c0c0c0"/>
<rect x="280" y="628" width="1" height="28" fill="#c0c0c0"/>
<rect x="284" y="628" width="1" height="30" fill="#c0c0c0"/>
<rect x="288" y="628" width="1" height="34" fill="#c0c0c0"/>
<rect x="292" y="628" width="1" height="36" fill="#c0c0c0"/>
<rect x="296" y="628" width="1" height="34" fill="#c0c0c0"/>
<rect x="300" y="628" width="1" height="30" fill="#c0c0c0"/>
<rect x="304" y="628" width="1" height="28" fill="#c0c0c0"/>
<rect x="308" y="628" width="1" height="25" fill="#c0c0c0"/>
<rect x="312" y="628" width="1" height="21" fill="#c0c0c0"/>
<rect x="316" y="628" width="1" height="18" fill="#c0c0c0"/>
<rect x="320" y="628" width="1" height="15" fill="#c0c0c0"/>
<rect x="324" y="628" width="1" height="14" fill="#c0c0c0"/>
<rect x="328" y="628" width="1" height="12" fill="#c0c0c0"/>
<rect x="332" y="628" width="1" height="11" fill="#c0c0c0"/>
<rect x="336" y="628" width="1" height="10" fill="#c0c0c0"/>
<rect x="340" y="628" width="1" height="10" fill="#c0c0c0"/>
<rect x="344" y="628" width="1" height="12" fill="#c0c0c0"/>
<rect x="348" y="628" width="1" height="16" fill="#c0c0c0"/>
<rect x="352" y="628" width="1" height="17" fill="#c0c0c0"/>
<rect x="356" y="628" width="1" height="20" fill="#c0c0c0"/>
<rect x="360" y="628" width="1" height="24" fill="#c0c0c0"/>
<rect x="364" y="628" width="1" height="27" fill="#c0c0c0"/>
<rect x="368" y="628" width="1" height="29" fill="#c0c0c0"/>
<rect x="372" y="628" width="1" height="29" fill="#c0c0c0"/>
<rect x="376" y="628" width="1" height="27" fill="#c0c0c0"/>
<rect x="380" y="628" width="1" height="26" fill="#c0c0c0"/>
<rect x="384" y="628" width="1" height="25" fill="#c0c0c0"/>
<rect x="388" y="628" width="1" height="23" fill="#c0c0c0"/>
<rect x="392" y="628" width="1" height="20" fill="#c0c0c0"/>
<rect x="396" y="628" width="1" height="17" fill="#c0c0c0"/>
<rect x="400" y="628" width="1" height="15" fill="#c0c0c0"/>
<rect x="404" y="628" width="1" height="15" fill="#c0c0c0"/>
<rect x="408" y="628" width="1" height="15" fill="#c0c0c0"/>
<rect x="412" y="628" width="1" height="14" fill="#c0c0c0"/>
<rect x="416" y="628" width="1" height="13" fill="#c0c0c0"/>
<rect x="420" y="628" width="1" height="12" fill="#c0c0c0"/>
<rect x="424" y="628" width="1" height="11" fill="#c0c0c0"/>
<rect x="428" y="628" width="1" height="13" fill="#c0c0c0"/>
<rect x="432" y="628" width="1" height="12" fill="#c0c0c0"/>
<rect x="436" y="628" width="1" height="10" fill="#c0c0c0"/>
<rect x="440" y="628" width="1" height="9" fill="#c0c0c0"/>
<rect x="444" y="628" width="1" height="8" fill="#c0c0c0"/>
<rect x="448" y="628" width="1" height="6" fill="#c0c0c0"/>
<rect x="452" y="628" width="1" height="4" fill="#c0c0c0"/>
<rect x="456" y="628" width="1" height="3" fill="#c0c0c0"/>
<rect x="460" y="628" width="1" height="3" fill="#c0c0c0"/>
<rect x="464" y="628" width="1" height="3" fill="#c0c0c0"/>
<rect x="468" y="628" width="1" height="3" fill="#c0c0c0"/>
<rect x="472" y="628" width="1" height="3" fill="#c0c0c0"/>
<rect x="476" y="628" width="1" height="4" fill="#c0c0c0"/>
<rect x="480" y="628" width="1" height="4" fill="#c0c0c0"/>
<rect x="484" y="628" width="1" height="4" fill="#c0c0c0"/>
<rect x="488" y="628" width="1" height="3" fill="#c0c0c0"/>
<rect x="492" y="628" width="1" height="2" fill="#c0c0c0"/>
<rect x="496" y="628" width="1" height="3" fill="#c0c0c0"/>
<rect x="500" y="628" width="1" height="4" fill="#c0c0c0"/>
<rect x="504" y="628" width="1" height="4" fill="#c0c0c0"/>
<rect x="508" y="628" width="1" height="6" fill="#c0c0c0"/>
<rect x="512" y="628" width="1" height="6" fill="#c0c0c0"/>
<rect x="516" y="628" width="1" height="6" fill="#c0c0c0"/>
<rect x="520" y="628" width="1" height="4" fill="#c0c0c0"/>
<rect x="524" y="628" width="1" height="2" fill="#c0c0c0"/>
<rect x="528" y="627" width="1" height="2" fill="#c0c0c0"/>
<rect x="532" y="626" width="1" height="3" fill="#c0c0c0"/>
<rect x="536" y="625" width="1" height="4" fill="#c0c0c0"/>
<rect x="540" y="624" width="1" height="5" fill="#c0c0c0"/>
<rect x="544" y="624" width="1" height="5" fill="#c0c0c0"/>
<rect x="548" y="623" width="1" height="6" fill="#c0c0c0"/>
<rect x="552" y="622" width="1" height="7" fill="#c0c0c0"/>
<rect x="556" y="619" width="1" height="10" fill="#c0c0c0"/>
<rect x="560" y="615" width="1" height="14" fill="#c0c0c0"/>
<rect x="564" y="612" width="1" height="17" fill="#c0c0c0"/>
<rect x="568" y="606" width="1" height="23" fill="#c0c0c0"/>
<rect x="572" y="601" width="1" height="28" fill="#c0c0c0"/>
<rect x="576" y="592" width="1" height="37" fill="#c0c0c0"/>
<rect x="580" y="587" width="1" height="42" fill="#c0c0c0"/>
<rect x="584" y="583" width="1" height="46" fill="#c0c0c0"/>
<rect x="588" y="578" width="1" height="51" fill="#c0c0c0"/>
<rect x="592" y="574" width="1" height="55" fill="#c0c0c0"/>
<rect x="596" y="573" width="1" height="56" fill="#c0c0c0"/>
<rect x="600" y="572" width="1" height="57" fill="#c0c0c0"/>
<rect x="604" y="572" width="1" height="57" fill="#c0c0c0"/>
<rect x="608" y="574" width="1" height="55" fill="#c0c0c0"/>
<rect x="612" y="576" width="1" height="53" fill="#c0c0c0"/>
<rect x="616" y="579" width="1" height="50" fill="#c0c0c0"/>
<rect x="620" y="581" width="1" height="48" fill="#c0c0c0"/>
<rect x="624" y="583" width="1" height="46" fill="#c0c0c0"/>
<rect x="628" y="584" width="1" height="45" fill="#c0c0c0"/>
<rect x="632" y="585" width="1" height="44" fill="#c0c0c0"/>
<rect x="636" y="588" width="1" height="41" fill="#c0c0c0"/>
<rect x="640" y="591" width="1" height="38" fill="#c0c0c0"/>
<rect x="644" y="593" width="1" height="36" fill="#c0c0c0"/>
<rect x="648" y="594" width="1" height="35" fill="#c0c0c0"/>
<rect x="652" y="595" width="1" height="34" fill="#c0c0c0"/>
<rect x="656" y="596" width="1" height="33" fill="#c0c0c0"/>
<rect x="660" y="598" width="1" height="31" fill="#c0c0c0"/>
<rect x="664" y="601" width="1" height="28" fill="#c0c0c0"/>
<rect x="668" y="602" width="1" height="27" fill="#c0c0c0"/>
<rect x="672" y="603" width="1" height="26" fill="#c0c0c0"/>
<rect x="676" y="605" width="1" height="24" fill="#c0c0c0"/>
<rect x="680" y="609" width="1" height="20" fill="#c0c0c0"/>
<rect x="684" y="613" width="1" height="16" fill="#c0c0c0"/>
<rect x="688" y="619" width="1" height="10" fill="#c0c0c0"/>
<rect x="692" y="623" width="1" height="6" fill="#c0c0c0"/>
<rect x="696" y="626" width="1" height="3" fill="#c0c0c0"/>
<rect x="700" y="627" width="1" height="2" fill="#c0c0c0"/>
<rect x="704" y="628" width="1" height="1" fill="#c0c0c0"/>
<rect x="708" y="628" width="1" height="2" fill="#c0c0c0"/>
<rect x="712" y="628" width="1" height="4" fill="#c0c0c0"/>
<rect x="716" y="628" width="1" height="6" fill="#c0c0c0"/>
<rect x="720" y="628" width="1" height="6" fill="#c0c0c0"/>
<rect x="724" y="628" width="1" height="5" fill="#c0c0c0"/>
<rect x="728" y="628" width="1" height="6" fill="#c0c0c0"/>
<rect x="732" y="628" width="1" height="4" fill="#c0c0c0"/>
<rect x="736" y="628" width="1" height="3" fill="#c0c0c0"/>
<rect x="740" y="628" width="1" height="2" fill="#c0c0c0"/>
<rect x="744" y="628" width="1" height="3" fill="#c0c0c0"/>
<rect x="748" y="628" width="1" height="4" fill="#c0c0c0"/>
<rect x="752" y="628" width="1" height="3" fill="#c0c0c0"/>
<rect x="756" y="628" width="1" height="4" fill="#c0c0c0"/>
<rect x="760" y="628" width="1" height="4" fill="#c0c0c0"/>
<rect x="764" y="628" width="1" height="4" fill="#c0c0c0"/>
<rect x="768" y="628" width="1" height="4" fill="#c0c0c0"/>
<rect x="772" y="628" width="1" height="3" fill="#c0c0c0"/>
<rect x="776" y="628" width="1" height="3" fill="#c0c0c0"/>
<rect x="780" y="628" width="1" height="2" fill="#c0c0c0"/>
<rect x="784" y="628" width="1" height="3" fill="#c0c0c0"/>
<rect x="788" y="628" width="1" height="3" fill="#c0c0c0"/>
<rect x="792" y="628" width="1" height="3" fill="#c0c0c0"/>
<rect x="796" y="628" width="1" height="2" fill="#c0c0c0"/>
<rect x="800" y="628" width="1" height="1" fill="#c0c0c0"/>
<rect x="804" y="627" width="1" height="2" fill="#c0c0c0"/>
<rect x="808" y="620" width="1" height="9" fill="#c0c0c0"/>
<rect x="812" y="614" width="1" height="15" fill="#c0c0c0"/>
<rect x="816" y="598" width="1" height="31" fill="#c0c0c0"/>
<rect x="820" y="592" width="1" height="37" fill="#c0c0c0"/>
<rect x="824" y="584" width="1" height="45" fill="#c0c0c0"/>
<rect x="828" y="579" width="1" height="50" fill="#c0c0c0"/>
<rect x="832" y="575" width="1" height="54" fill="#c0c0c0"/>
<rect x="836" y="572" width="1" height="57" fill="#c0c0c0"/>
<rect x="840" y="577" width="1" height="52" fill="#c0c0c0"/>
<rect x="844" y="579" width="1" height="50" fill="#c0c0c0"/>
<rect x="848" y="581" width="1" height="48" fill="#c0c0c0"/>
<rect x="852" y="584" width="1" height="45" fill="#c0c0c0"/>
<rect x="856" y="584" width="1" height="45" fill="#c0c0c0"/>
<rect x="860" y="584" width="1" height="45" fill="#c0c0c0"/>
<rect x="864" y="586" width="1" height="43" fill="#c0c0c0"/>
<rect x="868" y="585" width="1" height="44" fill="#c0c0c0"/>
<rect x="872" y="582" width="1" height="47" fill="#c0c0c0"/>
<rect x="876" y="577" width="1" height="52" fill="#c0c0c0"/>
<rect x="880" y="574" width="1" height="55" fill="#c0c0c0"/>
<rect x="884" y="573" width="1" height="56" fill="#c0c0c0"/>
<rect x="888" y="574" width="1" height="55" fill="#c0c0c0"/>
<rect x="892" y="574" width="1" height="55" fill="#c0c0c0"/>
<rect x="896" y="572" width="1" height="57" fill="#c0c0c0"/>
<rect x="900" y="572" width="1" height="57" fill="#c0c0c0"/>
<rect x="904" y="576" width="1" height="53" fill="#c0c0c0"/>
<rect x="908" y="580" width="1" height="49" fill="#c0c0c0"/>
<rect x="912" y="586" width="1" height="43" fill="#c0c0c0"/>
<rect x="916" y="591" width="1" height="38" fill="#c0c0c0"/>
<rect x="920" y="595" width="1" height="34" fill="#c0c0c0"/>
<rect x="924" y="601" width="1" height="28" fill="#c0c0c0"/>
<rect x="928" y="608" width="1" height="21" fill="#c0c0c0"/>
<rect x="932" y="615" width="1" height="14" fill="#c0c0c0"/>
<rect x="936" y="619" width="1" height="10" fill="#c0c0c0"/>
<rect x="940" y="621" width="1" height="8" fill="#c0c0c0"/>
<rect x="944" y="622" width="1" height="7" fill="#c0c0c0"/>
<rect x="948" y="622" width="1" height="7" fill="#c0c0c0"/>
<rect x="952" y="620" width="1" height="9" fill="#c0c0c0"/>
<rect x="956" y="620" width="1" height="9" fill="#c0c0c0"/>
<rect x="960" y="620" width="1" height="9" fill="#c0c0c0"/>
<rect x="964" y="619" width="1" height="10" fill="#c0c0c0"/>
<rect x="968" y="618" width="1" height="11" fill="#c0c0c0"/>
<rect x="972" y="616" width="1" height="13" fill="#c0c0c0"/>
<rect x="976" y="614" width="1" height="15" fill="#c0c0c0"/>
<rect x="980" y="613" width="1" height="16" fill="#c0c0c0"/>
<rect x="984" y="612" width="1" height="17" fill="#c0c0c0"/>
<rect x="988" y="613" width="1" height="16" fill="#c0c0c0"/>
<rect x="992" y="616" width="1" height="13" fill="#c0c0c0"/>
<rect x="996" y="616" width="1" height="13" fill="#c0c0c0"/>
<rect x="1000" y="614" width="1" height="15" fill="#c0c0c0"/>
<rect x="1004" y="613" width="1" height="16" fill="#c0c0c0"/>
<rect x="1008" y="616" width="1" height="13" fill="#c0c0c0"/>
<rect x="1012" y="622" width="1" height="7" fill="#c0c0c0"/>
<rect x="1016" y="626" width="1" height="3" fill="#c0c0c0"/>
<rect x="1020" y="628" width="1" height="1" fill="#c0c0c0"/>
<rect x="1024" y="628" width="1" height="1" fill="#c0c0c0"/>
<rect x="1028" y="628" width="1" height="3" fill="#c0c0c0"/>
<rect x="1032" y="628" width="1" height="5" fill="#c0c0c0"/>
<rect x="1036" y="628" width="1" height="7" fill="#c0c0c0"/>
<rect x="1040" y="628" width="1" height="9" fill="#c0c0c0"/>
<rect x="1044" y="628" width="1" height="10" fill="#c0c0c0"/>
<rect x="1048" y="628" width="1" height="11" fill="#c0c0c0"/>
<rect x="1052" y="628" width="1" height="12" fill="#c0c0c0"/>
<rect x="1056" y="628" width="1" height="13" fill="#c0c0c0"/>
<rect x="1060" y="628" width="1" height="13" fill="#c0c0c0"/>
<rect x="1064" y="628" width="1" height="14" fill="#c0c0c0"/>
<rect x="1068" y="628" width="1" height="15" fill="#c0c0c0"/>
<rect x="1072" y="628" width="1" height="16" fill="#c0c0c0"/>
<rect x="1076" y="628" width="1" height="18" fill="#c0c0c0"/>
<rect x="1080" y="628" width="1" height="21" fill="#c0c0c0"/>
<rect x="1084" y="628" width="1" height="23" fill="#c0c0c0"/>
<rect x="1088" y="628" width="1" height="27" fill="#c0c0c0"/>
<rect x="1092" y="628" width="1" height="28" fill="#c0c0c0"/>
<rect x="1096" y="628" width="1" height="28" fill="#c0c0c0"/>
<rect x="1100" y="628" width="1" height="26" fill="#c0c0c0"/>
<rect x="1104" y="628" width="1" height="23" fill="#c0c0c0"/>
<rect x="1108" y="628" width="1" height="22" fill="#c0c0c0"/>
<rect x="1112" y="628" width="1" height="22" fill="#c0c0c0"/>
<rect x="1116" y="628" width="1" height="20" fill="#c0c0c0"/>
<rect x="1120" y="628" width="1" height="18" fill="#c0c0c0"/>
<rect x="1124" y="628" width="1" height="14" fill="#c0c0c0"/>
<rect x="1128" y="628" width="1" height="13" fill="#c0c0c0"/>
<rect x="1132" y="628" width="1" height="11" fill="#c0c0c0"/>
<rect x="1136" y="628" width="1" height="10" fill="#c0c0c0"/>
<rect x="1140" y="628" width="1" height="10" fill="#c0c0c0"/>
<rect x="1144" y="628" width="1" height="9" fill="#c0c0c0"/>
<rect x="1148" y="628" width="1" height="8" fill="#c0c0c0"/>
<rect x="1152" y="628" width="1" height="8" fill="#c0c0c0"/>
</g>
<path d="M4 609h3v1h-3zM10 608h3v1h-3zM16 608h3v1h-3zM22 607h1v1h-1zM23 606h2v1h-2zM28 606h3v1h-3zM34 606h3v1h-3zM40 607h2v1h-2zM42 608h1v1h-1zM46 609h1v1h-1zM47 610h2v1h-2zM52 612h3v1h-3zM58 614h2v1h-2zM60 615h1v1h-1zM64 616h2v1h-2zM66 617h1v1h-1zM70 618h3v1h-3zM76 619h3v1h-3zM82 620h3v1h-3zM88 620h3v1h-3zM94 621h3v1h-3zM100 622h3v1h-3zM106 623h3v1h-3zM112 623h3v1h-3zM118 623h1v1h-1zM119 624h2v1h-2zM124 625h2v1h-2zM126 626h1v1h-1zM130 628h2v1h-2zM132 629h1v1h-1zM136 631h3v1h-3zM142 633h2v1h-2zM144 634h1v1h-1zM148 636h2v1h-2zM150 637h1v1h-1zM154 638h1v1h-1zM155 639h2v1h-2zM160 640h3v1h-3zM166 640h1v1h-1zM167 639h2v1h-2zM172 639h3v1h-3zM178 638h3v1h-3zM184 637h3v1h-3zM190 636h3v1h-3zM196 635h3v1h-3zM202 635h3v1h-3zM208 635h3v1h-3zM214 636h3v1h-3zM220 637h3v1h-3zM226 638h1v1h-1zM227 639h2v1h-2zM232 640h1v1h-1zM233 641h2v1h-2zM238 644h2v1h-2zM240 645h1v1h-1zM244 648h1v1h-1zM245 649h2v1h-2zM250 652h2v1h-2zM252 653h1v1h-1zM256 656h2v1h-2zM258 657h1v1h-1zM262 658h1v1h-1zM263 659h2v1h-2zM268 659h3v1h-3zM274 659h1v1h-1zM275 658h2v1h-2zM280 658h3v1h-3zM286 657h3v1h-3zM292 657h3v1h-3zM298 657h1v1h-1zM299 658h2v1h-2zM304 658h3v1h-3zM310 658h1v1h-1zM311 657h2v1h-2zM316 656h2v1h-2zM318 655h1v1h-1zM322 653h2v1h-2zM324 652h1v1h-1zM328 649h2v1h-2zM330 648h1v1h-1zM334 646h2v1h-2zM336 645h1v1h-1zM340 643h2v1h-2zM342 642h1v1h-1zM346 641h3v1h-3zM352 640h3v1h-3zM358 641h1v1h-1zM359 642h2v1h-2zM364 644h2v1h-2zM366 645h1v1h-1zM370 647h2v1h-2zM372 648h1v1h-1zM376 650h3v1h-3zM382 651h1v1h-1zM383 652h2v1h-2zM388 653h3v1h-3zM394 653h1v1h-1zM395 652h2v1h-2zM400 651h2v1h-2zM402 650h1v1h-1zM406 649h1v1h-1zM407 648h2v1h-2zM412 646h3v1h-3zM418 644h2v1h-2zM420 643h1v1h-1zM424 642h3v1h-3zM430 641h3v1h-3zM436 640h3v1h-3zM442 639h3v1h-3zM448 638h3v1h-3zM454 637h1v1h-1zM455 636h2v1h-2zM460 635h3v1h-3zM466 634h1v1h-1zM467 633h2v1h-2zM472 632h3v1h-3zM478 632h1v1h-1zM479 631h2v1h-2zM484 631h3v1h-3zM490 631h3v1h-3zM496 631h3v1h-3zM502 631h3v1h-3zM508 631h3v1h-3zM514 632h3v1h-3zM520 632h3v1h-3zM526 632h1v1h-1zM527 631h2v1h-2zM532 631h3v1h-3zM538 630h1v1h-1zM539 629h2v1h-2zM544 628h3v1h-3zM550 626h2v1h-2zM552 625h1v1h-1zM556 624h2v1h-2zM558 623h1v1h-1zM562 622h1v1h-1zM563 621h2v1h-2zM568 618h2v1h-2zM570 617h1v1h-1zM574 614h1v1h-1zM575 613h1v1h-1zM576 612h1v1h-1zM580 608h1v1h-1zM581 607h1v1h-1zM582 606h1v1h-1zM586 601h1v2h-1zM587 600h1v1h-1zM590 596h1v1h-1zM591 595h1v1h-1zM592 594h1v1h-1zM595 590h1v1h-1zM596 589h1v1h-1zM597 588h1v1h-1zM601 584h1v1h-1zM602 583h1v1h-1zM603 582h1v1h-1zM607 579h1v1h-1zM608 578h2v1h-2zM613 576h2v1h-2zM615 575h1v1h-1zM619 575h3v1h-3zM625 576h2v1h-2zM627 577h1v1h-1zM631 578h3v1h-3zM637 580h1v1h-1zM638 581h2v1h-2zM643 583h1v1h-1zM644 584h2v1h-2zM649 586h1v1h-1zM650 587h2v1h-2zM655 589h3v1h-3zM661 591h1v1h-1zM662 592h2v1h-2zM667 594h1v1h-1zM668 595h2v1h-2zM673 597h2v1h-2zM675 598h1v1h-1zM679 599h1v1h-1zM680 600h2v1h-2zM685 603h2v1h-2zM687 604h1v1h-1zM691 607h1v1h-1zM692 608h1v1h-1zM693 609h1v1h-1zM697 612h2v1h-2zM699 613h1v1h-1zM703 616h1v1h-1zM704 617h1v1h-1zM705 618h1v1h-1zM709 621h2v1h-2zM711 622h1v1h-1zM715 624h1v1h-1zM716 625h1v1h-1zM717 626h1v1h-1zM721 628h2v1h-2zM723 629h1v1h-1zM727 630h3v1h-3zM733 631h3v1h-3zM739 632h3v1h-3zM745 632h3v1h-3zM751 632h3v1h-3zM757 631h3v1h-3zM763 631h3v1h-3zM769 631h3v1h-3zM775 631h3v1h-3zM781 631h3v1h-3zM787 631h3v1h-3zM793 631h3v1h-3zM799 630h3v1h-3zM805 630h1v1h-1zM806 629h2v1h-2zM811 627h1v1h-1zM812 626h1v1h-1zM813 625h1v1h-1zM817 622h1v1h-1zM818 620h1v2h-1zM822 615h1v2h-1zM823 614h1v1h-1zM826 610h1v1h-1zM827 609h1v1h-1zM828 608h1v1h-1zM830 604h1v1h-1zM831 602h1v2h-1zM834 598h1v1h-1zM835 596h1v2h-1zM838 592h1v1h-1zM839 591h1v1h-1zM840 590h1v1h-1zM843 586h1v1h-1zM844 585h1v1h-1zM845 584h1v1h-1zM849 581h2v1h-2zM851 580h1v1h-1zM855 579h3v1h-3zM861 579h2v1h-2zM863 580h1v1h-1zM867 581h3v1h-3zM873 582h3v1h-3zM879 581h3v1h-3zM885 581h1v1h-1zM886 580h2v1h-2zM891 578h3v1h-3zM897 577h1v1h-1zM898 576h2v1h-2zM903 574h3v1h-3zM909 574h2v1h-2zM911 575h1v1h-1zM915 576h1v1h-1zM916 577h2v1h-2zM921 580h2v1h-2zM923 581h1v1h-1zM927 585h1v1h-1zM928 586h1v1h-1zM929 587h1v1h-1zM932 591h1v1h-1zM933 592h1v1h-1zM934 593h1v1h-1zM937 597h1v1h-1zM938 598h1v2h-1zM942 603h1v2h-1zM943 605h1v1h-1zM947 609h1v1h-1zM948 610h1v1h-1zM949 611h1v1h-1zM953 614h2v1h-2zM955 615h1v1h-1zM959 617h1v1h-1zM960 618h2v1h-2zM965 619h2v1h-2zM967 620h1v1h-1zM971 619h3v1h-3zM977 618h2v1h-2zM979 617h1v1h-1zM983 616h3v1h-3zM989 616h2v1h-2zM991 615h1v1h-1zM995 615h3v1h-3zM1001 614h2v1h-2zM1003 613h1v1h-1zM1007 614h3v1h-3zM1013 614h1v1h-1zM1014 615h2v1h-2zM1019 617h1v1h-1zM1020 618h2v1h-2zM1025 619h1v1h-1zM1026 620h2v1h-2zM1031 622h1v1h-1zM1032 623h1v1h-1zM1033 624h1v1h-1zM1037 626h1v1h-1zM1038 627h2v1h-2zM1043 630h1v1h-1zM1044 631h2v1h-2zM1049 633h2v1h-2zM1051 634h1v1h-1zM1055 635h3v1h-3zM1061 637h2v1h-2zM1063 638h1v1h-1zM1067 639h3v1h-3zM1073 640h2v1h-2zM1075 641h1v1h-1zM1079 642h3v1h-3zM1085 644h2v1h-2zM1087 645h1v1h-1zM1091 646h1v1h-1zM1092 647h2v1h-2zM1097 649h2v1h-2zM1099 650h1v1h-1zM1103 651h3v1h-3zM1109 651h2v1h-2zM1111 652h1v1h-1zM1115 652h3v1h-3zM1121 651h2v1h-2zM1123 650h1v1h-1zM1127 649h1v1h-1zM1128 648h2v1h-2zM1133 646h2v1h-2zM1135 645h1v1h-1zM1139 644h1v1h-1zM1140 643h2v1h-2zM1145 642h1v1h-1zM1146 641h2v1h-2zM1151 639h2v1h-2z" fill="#ff0000" shape-rendering="crispEdges"/>
<g shape-rendering="crispEdges">
<line x1="4" x2="1419" y1="711.5" y2="711.5" stroke="#c0c0c0" stroke-dasharray="3 3"/>
<line x1="4" x2="1419" y1="763.5" y2="763.5" stroke="#c0c0c0" stroke-dasharray="3 3"/>
</g>
<path d="M4 724h2v1h-2zM6 723h2v1h-2zM8 722h2v1h-2zM10 721h2v1h-2zM12 720h3v1h-3zM15 721h2v1h-2zM17 719h1v2h-1zM18 718h1v1h-1zM19 716h1v2h-1zM20 715h7v1h-7zM27 714h2v1h-2zM28 715h1v3h-1zM29 718h1v6h-1zM30 724h1v6h-1zM31 730h1v6h-1zM32 736h1v4h-1zM33 740h1v2h-1zM34 742h1v2h-1zM35 744h1v2h-1zM36 746h1v1h-1zM37 744h1v2h-1zM38 742h1v2h-1zM39 740h1v2h-1zM40 739h3v1h-3zM43 738h4v1h-4zM47 737h2v1h-2zM49 736h1v1h-1zM50 734h1v2h-1zM51 733h1v1h-1zM52 732h1v1h-1zM53 731h2v1h-2zM55 730h1v1h-1zM56 729h1v1h-1zM57 728h1v1h-1zM58 726h1v2h-1zM59 725h2v1h-2zM60 724h1v1h-1zM61 726h1v2h-1zM62 728h1v2h-1zM63 730h1v2h-1zM64 732h5v1h-5zM69 733h1v1h-1zM70 734h1v2h-1zM71 736h1v1h-1zM72 737h1v1h-1zM73 738h2v1h-2zM75 739h1v1h-1zM76 740h1v1h-1zM77 739h1v1h-1zM78 737h1v2h-1zM79 736h1v1h-1zM80 735h1v1h-1zM81 734h2v1h-2zM83 733h1v1h-1zM84 732h1v1h-1zM85 733h1v2h-1zM86 735h1v1h-1zM87 736h1v2h-1zM88 738h5v1h-5zM93 736h1v2h-1zM94 734h1v2h-1zM95 732h1v2h-1zM96 731h6v1h-6zM102 730h2v1h-2zM104 729h1v1h-1zM105 730h1v2h-1zM106 732h1v1h-1zM107 733h1v2h-1zM108 735h2v1h-2zM110 736h2v1h-2zM112 737h1v1h-1zM113 735h1v2h-1zM114 734h1v1h-1zM115 732h1v2h-1zM116 731h1v3h-1zM117 734h1v6h-1zM118 740h1v6h-1zM119 746h1v6h-1zM120 752h1v3h-1zM121 755h1v1h-1zM122 756h1v1h-1zM123 757h1v1h-1zM124 758h1v1h-1zM125 757h1v1h-1zM126 755h1v2h-1zM127 754h1v1h-1zM128 753h1v1h-1zM129 752h1v1h-1zM130 751h1v1h-1zM131 750h1v1h-1zM132 749h2v1h-2zM134 748h2v1h-2zM136 746h1v2h-1zM137 744h1v2h-1zM138 741h1v3h-1zM139 739h1v2h-1zM140 737h1v2h-1zM141 738h1v2h-1zM142 740h1v1h-1zM143 741h1v2h-1zM144 743h1v1h-1zM145 744h1v2h-1zM146 746h1v1h-1zM147 747h1v2h-1zM148 749h1v1h-1zM149 748h1v1h-1zM150 747h1v1h-1zM151 746h1v1h-1zM152 745h1v1h-1zM153 743h1v2h-1zM154 742h1v1h-1zM155 740h1v2h-1zM156 739h3v1h-3zM159 740h3v1h-3zM162 741h2v1h-2zM164 742h1v1h-1zM165 741h1v1h-1zM166 739h1v2h-1zM167 738h1v1h-1zM168 737h1v1h-1zM169 738h1v1h-1zM170 739h1v1h-1zM171 740h2v1h-2zM172 741h1v1h-1zM173 738h1v2h-1zM174 736h1v2h-1zM175 734h1v2h-1zM176 733h1v1h-1zM177 734h1v1h-1zM178 735h1v2h-1zM179 737h1v1h-1zM180 738h2v1h-2zM182 739h2v1h-2zM184 740h5v1h-5zM189 741h1v2h-1zM190 743h1v1h-1zM191 744h1v2h-1zM192 746h1v1h-1zM193 745h2v1h-2zM195 744h1v1h-1zM196 743h1v1h-1zM197 744h1v1h-1zM198 745h1v1h-1zM199 746h1v1h-1zM200 747h5v1h-5zM205 745h1v2h-1zM206 744h1v1h-1zM207 742h1v2h-1zM208 741h3v1h-3zM211 742h2v1h-2zM213 743h1v1h-1zM214 744h1v2h-1zM215 746h1v1h-1zM216 747h1v1h-1zM217 748h1v2h-1zM218 750h1v1h-1zM219 751h1v2h-1zM220 753h1v1h-1zM221 752h2v1h-2zM223 751h2v1h-2zM224 750h1v1h-1zM225 752h1v2h-1zM226 754h1v3h-1zM227 757h1v2h-1zM228 759h1v2h-1zM229 761h1v1h-1zM230 762h1v1h-1zM231 763h1v1h-1zM232 764h1v1h-1zM233 765h1v1h-1zM234 766h1v1h-1zM235 767h1v1h-1zM236 768h3v1h-3zM239 769h2v1h-2zM241 768h1v1h-1zM242 766h1v2h-1zM243 765h1v1h-1zM244 764h2v1h-2zM246 765h3v1h-3zM248 766h1v1h-1zM249 763h1v2h-1zM250 761h1v2h-1zM251 759h1v2h-1zM252 756h1v3h-1zM253 754h1v2h-1zM254 751h1v3h-1zM255 749h1v2h-1zM256 747h1v2h-1zM257 747h2v1h-2zM259 748h2v1h-2zM261 747h1v1h-1zM262 745h1v2h-1zM263 744h1v1h-1zM264 743h1v1h-1zM265 744h1v2h-1zM266 746h1v1h-1zM267 747h1v2h-1zM268 749h1v1h-1zM269 748h2v1h-2zM271 747h2v1h-2zM272 746h1v1h-1zM273 748h1v3h-1zM274 751h1v2h-1zM275 753h1v3h-1zM276 756h1v2h-1zM277 757h2v1h-2zM279 756h3v1h-3zM282 757h2v1h-2zM284 758h1v1h-1zM285 759h1v2h-1zM286 761h1v2h-1zM287 763h1v2h-1zM288 765h3v1h-3zM291 764h2v1h-2zM292 762h1v2h-1zM293 758h1v4h-1zM294 754h1v4h-1zM295 750h1v4h-1zM296 747h1v3h-1zM297 745h1v2h-1zM298 744h1v1h-1zM299 742h1v2h-1zM300 741h1v1h-1zM301 742h1v1h-1zM302 743h1v1h-1zM303 744h1v1h-1zM304 745h1v1h-1zM305 744h1v1h-1zM306 743h1v1h-1zM307 742h1v1h-1zM308 741h1v1h-1zM309 740h2v1h-2zM311 739h1v1h-1zM312 738h3v1h-3zM315 739h2v1h-2zM317 738h1v1h-1zM318 736h1v2h-1zM319 735h1v1h-1zM320 734h1v1h-1zM321 735h1v2h-1zM322 737h1v2h-1zM323 739h1v2h-1zM324 741h1v1h-1zM325 740h1v1h-1zM326 739h1v1h-1zM327 738h1v1h-1zM328 737h3v1h-3zM331 738h2v1h-2zM333 739h1v1h-1zM334 740h1v1h-1zM335 741h1v1h-1zM336 742h2v1h-2zM338 741h3v1h-3zM340 740h1v1h-1zM341 742h1v2h-1zM342 744h1v2h-1zM343 746h1v2h-1zM344 748h1v2h-1zM345 750h1v1h-1zM346 751h1v2h-1zM347 753h1v1h-1zM348 754h1v1h-1zM349 753h2v1h-2zM351 752h1v1h-1zM352 751h1v1h-1zM353 752h1v1h-1zM354 753h1v2h-1zM355 755h1v1h-1zM356 756h1v1h-1zM357 757h2v1h-2zM359 758h1v1h-1zM360 759h7v1h-7zM367 760h2v1h-2zM369 758h1v2h-1zM370 756h1v2h-1zM371 754h1v2h-1zM372 752h1v2h-1zM373 750h1v2h-1zM374 748h1v2h-1zM375 746h1v2h-1zM376 745h1v1h-1zM377 746h2v1h-2zM379 747h1v1h-1zM380 748h5v1h-5zM385 747h2v1h-2zM387 746h1v1h-1zM388 745h1v1h-1zM389 743h1v2h-1zM390 741h1v2h-1zM391 739h1v2h-1zM392 738h3v1h-3zM395 739h6v1h-6zM400 740h1v1h-1zM401 741h1v2h-1zM402 743h1v2h-1zM403 745h1v2h-1zM404 747h3v1h-3zM407 748h2v1h-2zM408 747h1v1h-1zM409 745h1v2h-1zM410 743h1v2h-1zM411 741h1v2h-1zM412 740h1v1h-1zM413 741h2v1h-2zM415 742h1v1h-1zM416 743h1v1h-1zM417 742h2v1h-2zM419 741h1v1h-1zM420 740h2v1h-2zM422 741h2v1h-2zM424 742h1v2h-1zM425 744h1v2h-1zM426 746h1v3h-1zM427 749h1v2h-1zM428 751h1v2h-1zM429 748h1v3h-1zM430 745h1v3h-1zM431 742h1v3h-1zM432 740h1v2h-1zM433 739h1v1h-1zM434 738h1v1h-1zM435 737h1v1h-1zM436 736h1v1h-1zM437 737h1v1h-1zM438 738h1v1h-1zM439 739h1v1h-1zM440 740h2v1h-2zM442 739h2v1h-2zM444 738h1v1h-1zM445 737h1v1h-1zM446 735h1v2h-1zM447 734h1v1h-1zM448 733h3v1h-3zM451 732h2v1h-2zM453 733h1v1h-1zM454 734h1v2h-1zM455 736h1v1h-1zM456 737h3v1h-3zM459 738h3v1h-3zM462 737h2v1h-2zM464 736h1v1h-1zM465 737h1v1h-1zM466 738h1v2h-1zM467 740h1v1h-1zM468 741h3v1h-3zM471 740h2v1h-2zM473 741h2v1h-2zM475 742h1v1h-1zM476 743h1v1h-1zM477 742h1v1h-1zM478 741h1v1h-1zM479 740h1v1h-1zM480 739h7v1h-7zM487 738h2v1h-2zM489 737h1v1h-1zM490 736h1v1h-1zM491 735h2v1h-2zM492 734h1v1h-1zM493 736h1v2h-1zM494 738h1v2h-1zM495 740h1v2h-1zM496 742h1v2h-1zM497 743h2v1h-2zM499 744h2v1h-2zM501 743h1v1h-1zM502 741h1v2h-1zM503 740h2v1h-2zM504 739h1v1h-1zM505 741h1v3h-1zM506 744h1v4h-1zM507 748h1v3h-1zM508 751h1v2h-1zM509 748h1v3h-1zM510 745h1v3h-1zM511 742h1v3h-1zM512 740h1v2h-1zM513 740h1v1h-1zM514 739h2v1h-2zM516 738h1v1h-1zM517 737h1v1h-1zM518 735h1v2h-1zM519 734h1v1h-1zM520 733h1v1h-1zM521 732h2v1h-2zM523 731h1v1h-1zM524 730h1v1h-1zM525 729h1v1h-1zM526 727h1v2h-1zM527 726h1v1h-1zM528 725h1v1h-1zM529 726h1v1h-1zM530 727h1v2h-1zM531 729h1v1h-1zM532 730h3v1h-3zM535 729h4v1h-4zM539 730h2v1h-2zM541 731h2v1h-2zM543 732h1v1h-1zM544 733h1v1h-1zM545 731h1v2h-1zM546 729h1v2h-1zM547 727h1v2h-1zM548 726h1v1h-1zM549 727h1v1h-1zM550 728h1v1h-1zM551 729h2v1h-2zM552 730h1v1h-1zM553 725h1v4h-1zM554 721h1v4h-1zM555 717h1v4h-1zM556 715h1v2h-1zM557 715h1v1h-1zM558 714h2v1h-2zM560 713h2v1h-2zM562 712h2v1h-2zM564 711h1v1h-1zM565 709h1v2h-1zM566 707h1v2h-1zM567 705h1v2h-1zM568 704h2v1h-2zM570 703h2v1h-2zM572 701h1v2h-1zM573 699h1v2h-1zM574 697h1v2h-1zM575 695h1v2h-1zM576 694h1v1h-1zM577 695h1v1h-1zM578 696h1v2h-1zM579 698h1v1h-1zM580 699h5v1h-5zM585 698h2v1h-2zM587 697h1v1h-1zM588 696h3v1h-3zM591 695h2v1h-2zM593 696h1v1h-1zM594 697h1v2h-1zM595 699h1v1h-1zM596 700h1v1h-1zM597 701h2v1h-2zM599 702h1v1h-1zM600 703h3v1h-3zM603 702h2v1h-2zM605 703h1v1h-1zM606 704h1v1h-1zM607 705h1v1h-1zM608 706h1v1h-1zM609 707h1v2h-1zM610 709h1v1h-1zM611 710h1v2h-1zM612 712h1v1h-1zM613 713h2v1h-2zM615 714h1v1h-1zM616 715h1v1h-1zM617 714h2v1h-2zM619 713h1v1h-1zM620 712h2v1h-2zM622 711h2v1h-2zM624 710h3v1h-3zM627 709h2v1h-2zM629 710h2v1h-2zM631 711h1v1h-1zM632 712h1v1h-1zM633 713h1v2h-1zM634 715h1v2h-1zM635 717h1v2h-1zM636 719h2v1h-2zM638 718h2v1h-2zM640 717h3v1h-3zM643 716h6v1h-6zM649 715h1v1h-1zM650 713h1v2h-1zM651 712h1v1h-1zM652 711h5v1h-5zM656 712h1v1h-1zM657 713h1v3h-1zM658 716h1v3h-1zM659 719h1v3h-1zM660 722h1v2h-1zM661 723h2v1h-2zM663 722h4v1h-4zM667 721h3v1h-3zM670 720h2v1h-2zM672 719h3v1h-3zM675 720h2v1h-2zM676 721h1v2h-1zM677 723h1v5h-1zM678 728h1v5h-1zM679 733h1v5h-1zM680 738h1v3h-1zM681 740h2v1h-2zM683 741h2v1h-2zM684 742h1v1h-1zM685 743h1v3h-1zM686 746h1v2h-1zM687 748h1v3h-1zM688 751h1v2h-1zM689 752h1v1h-1zM690 751h2v1h-2zM692 750h1v1h-1zM693 749h1v1h-1zM694 747h1v2h-1zM695 746h1v1h-1zM696 745h1v1h-1zM697 744h1v1h-1zM698 742h1v2h-1zM699 741h1v1h-1zM700 740h2v1h-2zM702 741h2v1h-2zM704 742h1v1h-1zM705 743h1v1h-1zM706 744h1v1h-1zM707 745h1v1h-1zM708 746h3v1h-3zM711 747h2v1h-2zM713 748h1v1h-1zM714 749h1v1h-1zM715 750h2v1h-2zM716 751h1v1h-1zM717 747h1v3h-1zM718 744h1v3h-1zM719 741h1v3h-1zM720 739h1v2h-1zM721 739h2v1h-2zM723 740h3v1h-3zM726 741h3v1h-3zM728 742h1v1h-1zM729 739h1v2h-1zM730 737h1v2h-1zM731 735h1v2h-1zM732 733h1v2h-1zM733 734h2v1h-2zM735 735h1v1h-1zM736 736h2v1h-2zM738 735h3v1h-3zM740 734h1v1h-1zM741 736h1v2h-1zM742 738h1v2h-1zM743 740h1v2h-1zM744 742h1v2h-1zM745 743h1v1h-1zM746 742h2v1h-2zM748 741h1v1h-1zM749 740h2v1h-2zM751 739h1v1h-1zM752 738h1v1h-1zM753 739h1v1h-1zM754 740h1v1h-1zM755 741h1v1h-1zM756 742h1v1h-1zM757 741h2v1h-2zM759 740h1v1h-1zM760 739h3v1h-3zM763 740h3v1h-3zM766 741h2v1h-2zM768 742h1v1h-1zM769 741h1v1h-1zM770 739h1v2h-1zM771 738h1v1h-1zM772 737h3v1h-3zM775 736h6v1h-6zM781 737h1v2h-1zM782 739h1v2h-1zM783 741h1v2h-1zM784 743h5v1h-5zM789 741h1v2h-1zM790 740h1v1h-1zM791 738h1v2h-1zM792 737h1v1h-1zM793 735h1v2h-1zM794 733h1v2h-1zM795 731h1v2h-1zM796 730h2v1h-2zM798 731h3v1h-3zM800 732h1v1h-1zM801 729h1v2h-1zM802 726h1v3h-1zM803 724h1v2h-1zM804 720h1v4h-1zM805 716h1v4h-1zM806 711h1v5h-1zM807 707h1v4h-1zM808 704h1v3h-1zM809 704h2v1h-2zM811 703h2v1h-2zM812 702h1v1h-1zM813 698h1v4h-1zM814 694h1v4h-1zM815 690h1v4h-1zM816 688h1v4h-1zM817 692h1v6h-1zM818 698h1v6h-1zM819 704h1v6h-1zM820 710h1v3h-1zM821 711h2v1h-2zM823 710h1v1h-1zM824 709h7v1h-7zM831 708h6v1h-6zM836 709h1v2h-1zM837 711h1v5h-1zM838 716h1v5h-1zM839 721h1v5h-1zM840 726h1v3h-1zM841 727h1v1h-1zM842 726h1v1h-1zM843 725h1v1h-1zM844 724h9v1h-9zM853 723h1v1h-1zM854 722h1v1h-1zM855 721h1v1h-1zM856 720h3v1h-3zM859 721h4v1h-4zM863 722h2v1h-2zM865 721h1v1h-1zM866 720h1v1h-1zM867 719h1v1h-1zM868 718h1v1h-1zM869 716h1v2h-1zM870 714h1v2h-1zM871 712h1v2h-1zM872 711h1v1h-1zM873 710h2v1h-2zM875 709h1v1h-1zM876 708h9v1h-9zM884 709h1v1h-1zM885 710h1v2h-1zM886 712h1v2h-1zM887 714h1v2h-1zM888 716h1v1h-1zM889 715h2v1h-2zM891 714h1v1h-1zM892 713h1v1h-1zM893 712h1v1h-1zM894 711h1v1h-1zM895 710h1v1h-1zM896 709h1v1h-1zM897 710h1v1h-1zM898 711h1v2h-1zM899 713h1v1h-1zM900 714h1v2h-1zM901 716h1v2h-1zM902 718h1v2h-1zM903 720h1v2h-1zM904 722h1v2h-1zM905 723h2v1h-2zM907 724h2v1h-2zM908 725h1v1h-1zM909 726h1v2h-1zM910 728h1v2h-1zM911 730h1v2h-1zM912 732h1v2h-1zM913 733h1v1h-1zM914 732h2v1h-2zM916 731h2v1h-2zM918 732h2v1h-2zM920 733h1v1h-1zM921 734h1v1h-1zM922 735h1v1h-1zM923 736h1v1h-1zM924 737h1v1h-1zM925 738h1v2h-1zM926 740h1v2h-1zM927 742h1v2h-1zM928 744h1v1h-1zM929 745h2v1h-2zM931 746h1v1h-1zM932 747h1v1h-1zM933 746h1v1h-1zM934 744h1v2h-1zM935 743h1v1h-1zM936 742h1v1h-1zM937 741h1v1h-1zM938 739h1v2h-1zM939 738h1v1h-1zM940 737h3v1h-3zM943 736h2v1h-2zM945 735h2v1h-2zM947 734h1v1h-1zM948 733h1v1h-1zM949 732h1v1h-1zM950 731h1v1h-1zM951 730h1v1h-1zM952 729h1v1h-1zM953 730h2v1h-2zM955 731h1v1h-1zM956 732h3v1h-3zM959 733h2v1h-2zM961 731h1v2h-1zM962 730h1v1h-1zM963 728h1v2h-1zM964 727h3v1h-3zM967 728h2v1h-2zM969 727h1v1h-1zM970 725h1v2h-1zM971 724h1v1h-1zM972 723h3v1h-3zM975 724h4v1h-4zM979 723h4v1h-4zM983 724h2v1h-2zM985 725h1v2h-1zM986 727h1v1h-1zM987 728h1v2h-1zM988 730h1v1h-1zM989 731h1v2h-1zM990 733h1v2h-1zM991 735h1v2h-1zM992 736h1v2h-1zM993 734h1v2h-1zM994 732h1v2h-1zM995 730h1v2h-1zM996 729h1v1h-1zM997 727h1v2h-1zM998 726h1v1h-1zM999 724h1v2h-1zM1000 723h3v1h-3zM1003 724h2v1h-2zM1004 725h1v2h-1zM1005 727h1v4h-1zM1006 731h1v4h-1zM1007 735h1v4h-1zM1008 739h1v2h-1zM1009 741h1v2h-1zM1010 743h1v2h-1zM1011 745h1v2h-1zM1012 747h3v1h-3zM1015 748h2v1h-2zM1017 747h1v1h-1zM1018 745h1v2h-1zM1019 744h1v1h-1zM1020 743h1v1h-1zM1021 742h1v1h-1zM1022 740h1v2h-1zM1023 739h1v1h-1zM1024 738h1v1h-1zM1025 739h1v2h-1zM1026 741h1v1h-1zM1027 742h1v2h-1zM1028 744h2v1h-2zM1030 745h2v1h-2zM1032 746h7v1h-7zM1039 745h2v1h-2zM1041 746h2v1h-2zM1043 747h1v1h-1zM1044 748h1v1h-1zM1045 747h1v1h-1zM1046 746h1v1h-1zM1047 745h1v1h-1zM1048 744h1v1h-1zM1049 745h1v2h-1zM1050 747h1v1h-1zM1051 748h1v2h-1zM1052 750h1v1h-1zM1053 749h1v1h-1zM1054 747h1v2h-1zM1055 746h1v1h-1zM1056 745h5v1h-5zM1061 746h1v1h-1zM1062 747h1v2h-1zM1063 749h1v1h-1zM1064 750h6v1h-6zM1070 751h2v1h-2zM1072 752h1v1h-1zM1073 753h1v1h-1zM1074 754h1v1h-1zM1075 755h1v1h-1zM1076 756h1v1h-1zM1077 757h1v1h-1zM1078 758h1v2h-1zM1079 760h1v1h-1zM1080 761h1v1h-1zM1081 760h1v1h-1zM1082 758h1v2h-1zM1083 757h2v1h-2zM1084 756h1v1h-1zM1085 758h1v2h-1zM1086 760h1v2h-1zM1087 762h1v2h-1zM1088 764h1v1h-1zM1089 762h1v2h-1zM1090 760h1v2h-1zM1091 758h1v2h-1zM1092 757h1v1h-1zM1093 755h1v2h-1zM1094 753h1v2h-1zM1095 751h1v2h-1zM1096 750h1v1h-1zM1097 749h1v1h-1zM1098 747h1v2h-1zM1099 746h1v1h-1zM1100 745h2v1h-2zM1102 744h2v1h-2zM1104 743h1v1h-1zM1105 744h1v1h-1zM1106 745h1v1h-1zM1107 746h1v1h-1zM1108 747h1v1h-1zM1109 748h2v1h-2zM1111 749h2v1h-2zM1112 750h1v1h-1zM1113 747h1v2h-1zM1114 745h1v2h-1zM1115 743h1v2h-1zM1116 742h2v1h-2zM1118 741h2v1h-2zM1120 740h1v1h-1zM1121 739h1v1h-1zM1122 737h1v2h-1zM1123 736h1v1h-1zM1124 735h1v1h-1zM1125 736h1v1h-1zM1126 737h1v2h-1zM1127 739h1v1h-1zM1128 740h1v1h-1zM1129 739h1v1h-1zM1130 738h1v1h-1zM1131 737h1v1h-1zM1132 736h1v1h-1zM1133 737h1v1h-1zM1134 738h1v1h-1zM1135 739h1v1h-1zM1136 740h1v1h-1zM1137 741h2v1h-2zM1139 742h1v1h-1zM1140 743h1v1h-1zM1141 742h2v1h-2zM1143 741h1v1h-1zM1144 740h3v1h-3zM1147 739h6v1h-6z" fill="#1e90ff" shape-rendering="crispEdges"/>
<text x="2.5" y="10" font-size="9.8" fill="#303030" text-rendering="geometricPrecision">H4</text>
<text x="31.5" y="10" font-size="9.8" fill="#303030" text-rendering="geometricPrecision">D1</text>
<text x="58.5" y="10" font-size="9.8" fill="#303030" text-rendering="geometricPrecision">W1</text>
<text x="85.5" y="10" font-size="9.8" fill="#303030" text-rendering="geometricPrecision">MN</text>
<g shape-rendering="crispEdges">
<rect x="1420" y="32" width="2" height="1" fill="#000"/>
<rect x="1420" y="65" width="2" height="1" fill="#000"/>
<rect x="1420" y="98" width="2" height="1" fill="#000"/>
<rect x="1420" y="131" width="2" height="1" fill="#000"/>
<rect x="1420" y="164" width="2" height="1" fill="#000"/>
<rect x="1420" y="197" width="2" height="1" fill="#000"/>
<rect x="1420" y="230" width="2" height="1" fill="#000"/>
<rect x="1420" y="263" width="2" height="1" fill="#000"/>
<rect x="1420" y="296" width="2" height="1" fill="#000"/>
<rect x="1420" y="329" width="2" height="1" fill="#000"/>
<rect x="1420" y="362" width="2" height="1" fill="#000"/>
<rect x="1420" y="395" width="2" height="1" fill="#000"/>
<rect x="1420" y="428" width="2" height="1" fill="#000"/>
<rect x="1420" y="461" width="2" height="1" fill="#000"/>
<rect x="1420" y="494" width="2" height="1" fill="#000"/>
<rect x="1420" y="527" width="2" height="1" fill="#000"/>
<rect x="1420" y="560" width="2" height="1" fill="#000"/>
<rect x="1420" y="566" width="2" height="1" fill="#000"/>
<rect x="1420" y="629" width="2" height="1" fill="#000"/>
<rect x="1420" y="668" width="2" height="1" fill="#000"/>
<rect x="1420" y="673" width="2" height="1" fill="#000"/>
<rect x="1420" y="711" width="2" height="1" fill="#000"/>
<rect x="1420" y="763" width="2" height="1" fill="#000"/>
<rect x="1420" y="800" width="2" height="1" fill="#000"/>
<rect x="4" y="803" width="1" height="3" fill="#000"/>
<rect x="68" y="803" width="1" height="3" fill="#000"/>
<rect x="132" y="803" width="1" height="3" fill="#000"/>
<rect x="196" y="803" width="1" height="3" fill="#000"/>
<rect x="260" y="803" width="1" height="3" fill="#000"/>
<rect x="324" y="803" width="1" height="3" fill="#000"/>
<rect x="388" y="803" width="1" height="3" fill="#000"/>
<rect x="452" y="803" width="1" height="3" fill="#000"/>
<rect x="516" y="803" width="1" height="3" fill="#000"/>
<rect x="580" y="803" width="1" height="3" fill="#000"/>
<rect x="644" y="803" width="1" height="3" fill="#000"/>
<rect x="708" y="803" width="1" height="3" fill="#000"/>
<rect x="772" y="803" width="1" height="3" fill="#000"/>
<rect x="836" y="803" width="1" height="3" fill="#000"/>
<rect x="900" y="803" width="1" height="3" fill="#000"/>
<rect x="964" y="803" width="1" height="3" fill="#000"/>
<rect x="1028" y="803" width="1" height="3" fill="#000"/>
<rect x="1092" y="803" width="1" height="3" fill="#000"/>
</g>
<text x="1425" y="36" class="ax">7.21190</text>
<text x="1425" y="69" class="ax">7.17790</text>
<text x="1425" y="102" class="ax">7.14290</text>
<text x="1425" y="135" class="ax">7.10790</text>
<text x="1425" y="168" class="ax">7.07390</text>
<text x="1425" y="201" class="ax">7.03890</text>
<text x="1425" y="267" class="ax">6.96990</text>
<text x="1425" y="300" class="ax">6.93490</text>
<text x="1425" y="333" class="ax">6.90090</text>
<text x="1425" y="366" class="ax">6.86590</text>
<text x="1425" y="399" class="ax">6.83190</text>
<text x="1425" y="432" class="ax">6.79690</text>
<text x="1425" y="465" class="ax">6.76190</text>
<text x="1425" y="498" class="ax">6.72790</text>
<text x="1425" y="531" class="ax">6.69290</text>
<text x="1425" y="564" class="ax">6.65890</text>
<text x="1423" y="575" class="ax">0.060687</text>
<text x="1425" y="632" class="ax">0.00</text>
<text x="1423" y="667" class="ax">-0.040438</text>
<text x="1424" y="681" class="ax">100</text>
<text x="1424" y="715" class="ax">70</text>
<text x="1424" y="767" class="ax">30</text>
<text x="1424" y="800" class="ax">0</text>
<rect x="1421" y="37" width="41" height="9" fill="#ff0000" shape-rendering="crispEdges"/>
<text x="1425" y="45" class="ax" style="fill:#fff;stroke:#fff">7.20017</text>
<rect x="1421" y="132" width="41" height="9" fill="#ff0000" shape-rendering="crispEdges"/>
<text x="1425" y="140" class="ax" style="fill:#fff;stroke:#fff">7.10073</text>
<rect x="1421" y="228" width="41" height="9" fill="#00ff00" shape-rendering="crispEdges"/>
<text x="1425" y="236" class="ax" style="fill:#fff;stroke:#fff">7.00025</text>
<rect x="1421" y="323" width="41" height="9" fill="#0000ff" shape-rendering="crispEdges"/>
<text x="1425" y="331" class="ax" style="fill:#fff;stroke:#fff">6.90100</text>
<rect x="1421" y="399" width="41" height="9" fill="#0000ff" shape-rendering="crispEdges"/>
<text x="1425" y="407" class="ax" style="fill:#fff;stroke:#fff">6.82103</text>
<rect x="1421" y="203" width="41" height="9" fill="#000" shape-rendering="crispEdges"/>
<text x="1425" y="211" class="ax" style="fill:#fff;stroke:#fff">7.02878</text>
<text x="3" y="814" class="ax" style="letter-spacing:0.18px">23 Oct 2018</text>
<text x="67" y="814" class="ax" style="letter-spacing:0.18px">14 Nov 2018</text>
<text x="131" y="814" class="ax" style="letter-spacing:0.18px">6 Dec 2018</text>
<text x="195" y="814" class="ax" style="letter-spacing:0.18px">28 Dec 2018</text>
<text x="259" y="814" class="ax" style="letter-spacing:0.18px">21 Jan 2019</text>
<text x="323" y="814" class="ax" style="letter-spacing:0.18px">12 Feb 2019</text>
<text x="387" y="814" class="ax" style="letter-spacing:0.18px">6 Mar 2019</text>
<text x="451" y="814" class="ax" style="letter-spacing:0.18px">28 Mar 2019</text>
<text x="515" y="814" class="ax" style="letter-spacing:0.18px">22 Apr 2019</text>
<text x="579" y="814" class="ax" style="letter-spacing:0.18px">14 May 2019</text>
<text x="643" y="814" class="ax" style="letter-spacing:0.18px">5 Jun 2019</text>
<text x="707" y="814" class="ax" style="letter-spacing:0.18px">27 Jun 2019</text>
<text x="771" y="814" class="ax" style="letter-spacing:0.18px">19 Jul 2019</text>
<text x="835" y="814" class="ax" style="letter-spacing:0.18px">12 Aug 2019</text>
<text x="899" y="814" class="ax" style="letter-spacing:0.18px">3 Sep 2019</text>
<text x="963" y="814" class="ax" style="letter-spacing:0.18px">25 Sep 2019</text>
<text x="1027" y="814" class="ax" style="letter-spacing:0.18px">17 Oct 2019</text>
<text x="1091" y="814" class="ax" style="letter-spacing:0.18px">8 Nov 2019</text>
<text x="17" y="33" class="ax" textLength="67" lengthAdjust="spacing">USDCNH-,Daily</text>
<text x="91.5" y="33" class="ax" textLength="140" lengthAdjust="spacing">7.02820 7.03226 7.02726 7.02878</text>
<path d="M6.5 31.5 L10.5 27 L14.5 31.5 Z" fill="#000"/>
<text x="8" y="577" class="ax">MACD(12,26,9) -0.007538 -0.010993</text>
<text x="8" y="683" class="ax" style="letter-spacing:0.05px">RSI(14) 48.0409</text>
<path d="M1130 23 L1139 23 L1134.5 28 Z" fill="#c0c0c0"/>
<path d="M4 797 L4 802 L9 802 Z" fill="#c0c0c0"/>
</svg>
<div id="oct" class="abs" style="left:5px;top:36px;width:191px;height:46px;background:#fff"></div>
<div class="abs" style="left:7px;top:37px;width:44px;height:20px;background:linear-gradient(#f85050 0px,#e83838 12px,#d42424 22px,#c01414 32px,#aa0000 44px);background-size:100% 44px;background-position:0 0px;overflow:hidden;box-shadow:inset 1px 0 0 #c81818, inset -1px 0 0 #b01010;"><div class="abs" style="left:0;top:0;width:44px;height:1px;background:#c01010"></div><span class="abs" style="left:6px;top:1px;font-size:14.5px;line-height:15px;color:#fff;transform:scaleX(.87);transform-origin:0 0;">SELL</span><div class="abs" style="left:4px;top:18px;width:36px;height:1px;background:#980000"></div><div class="abs" style="left:4px;top:19px;width:36px;height:1px;background:#f07070"></div></div>
<div class="abs" style="left:7px;top:56px;width:93px;height:25px;background:linear-gradient(#f85050 0px,#e83838 12px,#d42424 22px,#c01414 32px,#aa0000 44px);background-size:100% 44px;background-position:0 -19px;overflow:hidden;box-shadow:inset 1px 0 0 #c81818, inset -1px 0 0 #b01010;"><div class="abs" style="left:4px;top:-1px;width:36px;height:1px;background:#980000"></div><div class="abs" style="left:4px;top:0px;width:36px;height:1px;background:#f07070"></div><span class="abs" style="left:13px;top:16px;font-size:12px;line-height:12px;color:#fff;">7.02</span><span class="abs" style="left:41px;top:0px;font-size:31px;line-height:31px;color:#fff;transform:scaleX(.96);transform-origin:0 0;">87</span><span class="abs" style="left:78.5px;top:-4px;font-size:13px;line-height:13px;color:#fff;">8</span></div>
<div class="abs" style="left:150px;top:37px;width:44px;height:20px;background:linear-gradient(#f85050 0px,#e83838 12px,#d42424 22px,#c01414 32px,#aa0000 44px);background-size:100% 44px;background-position:0 0px;overflow:hidden;box-shadow:inset 1px 0 0 #c81818, inset -1px 0 0 #b01010;"><div class="abs" style="left:0;top:0;width:44px;height:1px;background:#c01010"></div><span class="abs" style="left:9px;top:1px;font-size:14.5px;line-height:15px;color:#fff;transform:scaleX(.83);transform-origin:0 0;">BUY</span></div>
<div class="abs" style="left:102px;top:56px;width:92px;height:25px;background:linear-gradient(#f85050 0px,#e83838 12px,#d42424 22px,#c01414 32px,#aa0000 44px);background-size:100% 44px;background-position:0 -19px;overflow:hidden;box-shadow:inset 1px 0 0 #c81818, inset -1px 0 0 #b01010;"><div class="abs" style="left:52px;top:-1px;width:36px;height:1px;background:#980000"></div><div class="abs" style="left:52px;top:0px;width:36px;height:1px;background:#f07070"></div><span class="abs" style="left:12px;top:16px;font-size:12px;line-height:12px;color:#fff;">7.03</span><span class="abs" style="left:42px;top:0px;font-size:31px;line-height:31px;color:#fff;transform:scaleX(.96);transform-origin:0 0;">12</span></div>
<span class="abs" style="left:181.5px;top:51.4px;font-size:13px;line-height:13px;color:#fff;">3</span>
<div class="abs" style="left:53px;top:37px;width:93px;height:15px;border:1px solid #9c9ea4;background:#fff;"><div class="abs" style="left:0;top:0;width:15px;height:15px;background:linear-gradient(#f4f4f4,#e4e4e4 50%,#c8c8c8);border-right:1px solid #9c9ea4"></div><div class="abs" style="left:77px;top:0;width:16px;height:15px;background:linear-gradient(#f4f4f4,#e4e4e4 50%,#c8c8c8);border-left:1px solid #9c9ea4"></div><svg class="abs" style="left:0;top:0" width="93" height="15"><path d="M4.5 6.5 L10.5 6.5 L7.5 10 Z" fill="#4a62c4"/><path d="M82.5 9.5 L88.5 9.5 L85.5 6 Z" fill="#4a62c4"/></svg><span class="abs" style="right:16.5px;top:-1px;font-size:14px;line-height:15px;color:#000;transform:scaleX(.8);transform-origin:100% 0;">1,00</span></div>
</body></html>
